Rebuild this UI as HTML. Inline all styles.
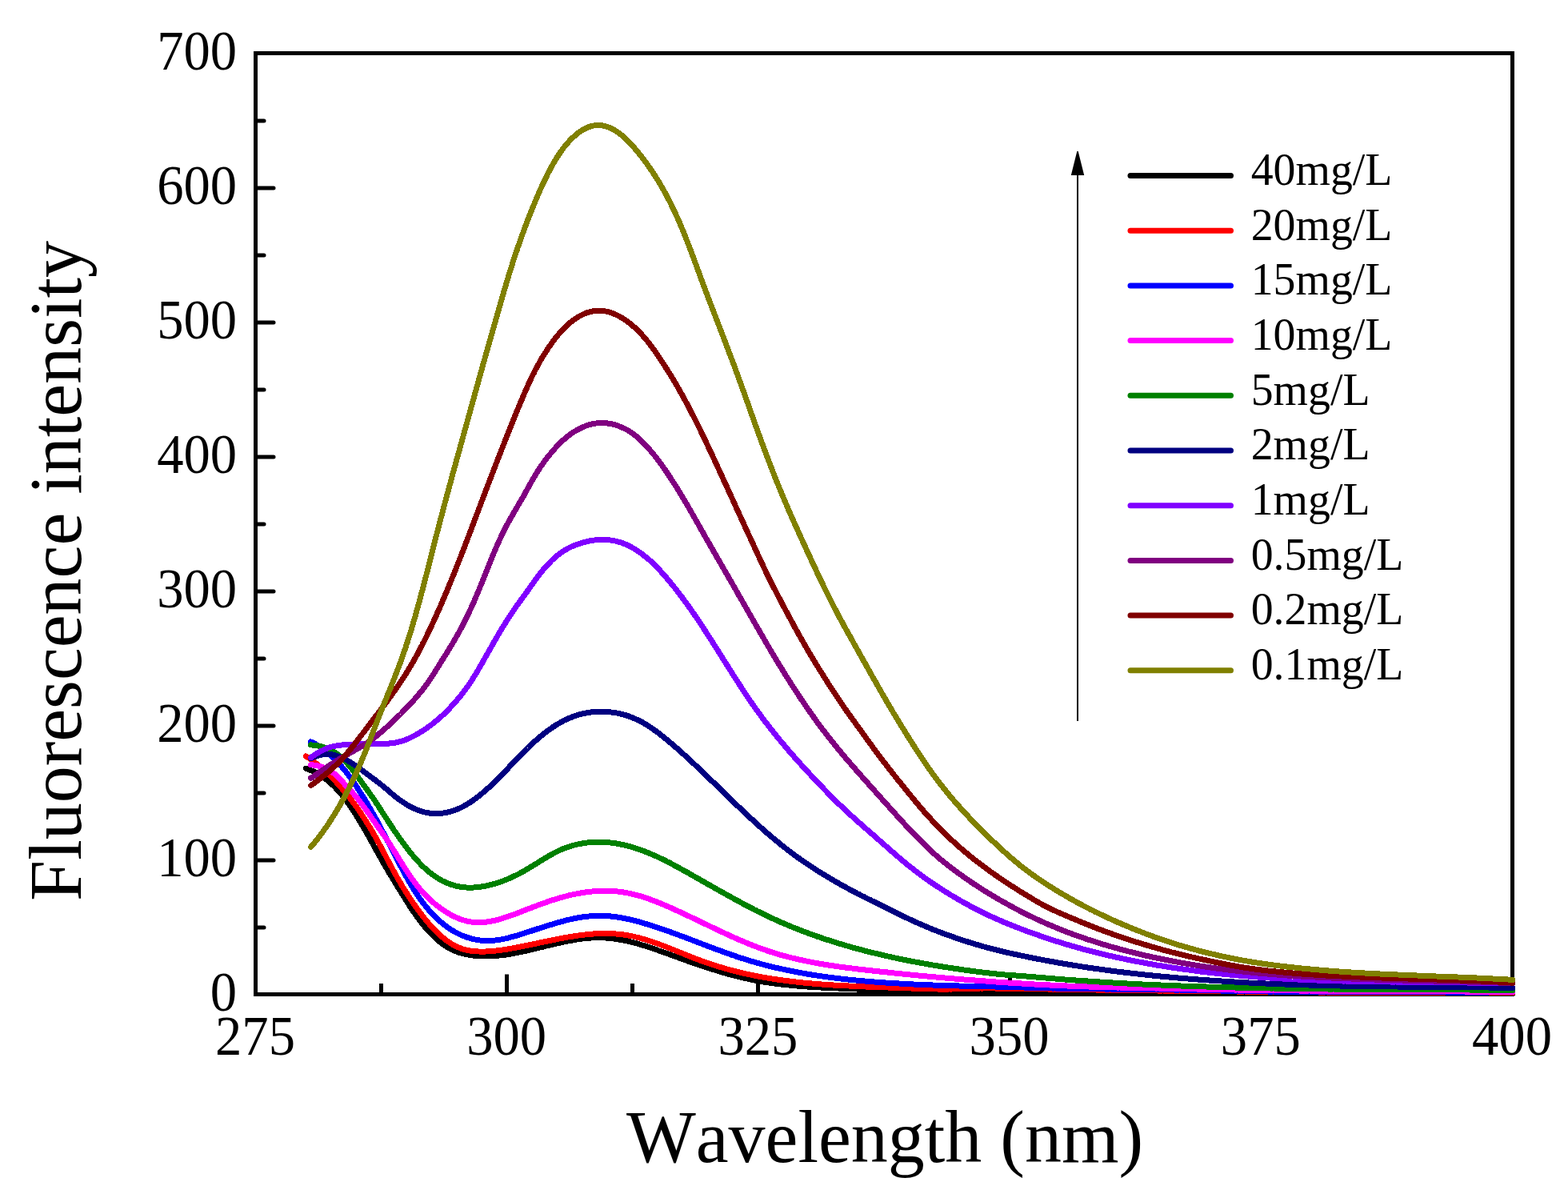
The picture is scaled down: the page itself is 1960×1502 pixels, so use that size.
<!DOCTYPE html>
<html lang="en">
<head>
<meta charset="utf-8">
<title>Fluorescence intensity vs Wavelength</title>
<style>
html,body{margin:0;padding:0;background:#fff;}
body{width:1960px;height:1502px;overflow:hidden;}
svg{display:block;}
text{font-family:"Liberation Serif","Times New Roman",serif;fill:#000;font-kerning:none;font-variant-ligatures:none;}
.tk{font-size:66px;}
.ax{font-size:92px;}
.lg{font-size:55px;}
.cv{fill:none;stroke-width:7;stroke-linecap:round;stroke-linejoin:round;}
.fr{fill:none;stroke:#000;stroke-width:5;}
</style>
</head>
<body>
<svg width="1960" height="1502" viewBox="0 0 1960 1502">
<rect x="0" y="0" width="1960" height="1502" fill="#ffffff"/>
<g class="fr" shape-rendering="crispEdges">
<path d="M319.5 66.5L1890.5 66.5L1890.5 1242.5L319.5 1242.5Z" stroke-linejoin="miter"/>
</g>
<g class="fr" stroke-linecap="round" stroke-width="6">
<path d="M319.5 1159.0h10.5M319.5 1075.0h22.5M319.5 991.0h10.5M319.5 907.0h22.5M319.5 823.0h10.5M319.5 739.0h22.5M319.5 655.0h10.5M319.5 571.0h22.5M319.5 487.0h10.5M319.5 403.0h22.5M319.5 319.0h10.5M319.5 235.0h22.5M319.5 151.0h10.5"/>
</g>
<path class="fr" stroke-linejoin="round" d="M476.5 1242.5v-13.5M633.5 1242.5v-25M790.5 1242.5v-13.5M947.5 1242.5v-25M1105.5 1242.5v-13.5M1262.5 1242.5v-25M1419.5 1242.5v-13.5M1576.5 1242.5v-25M1733.5 1242.5v-13.5"/>
<g class="tk" text-anchor="end">
<text transform="translate(296.2 1263.0) scale(1.01 1.055)">0</text>
<text transform="translate(296.2 1095.0) scale(1.01 1.055)">100</text>
<text transform="translate(296.2 927.0) scale(1.01 1.055)">200</text>
<text transform="translate(296.2 759.0) scale(1.01 1.055)">300</text>
<text transform="translate(296.2 591.0) scale(1.01 1.055)">400</text>
<text transform="translate(296.2 423.0) scale(1.01 1.055)">500</text>
<text transform="translate(296.2 255.0) scale(1.01 1.055)">600</text>
<text transform="translate(296.2 87.0) scale(1.01 1.055)">700</text>
</g>
<g class="tk" text-anchor="middle">
<text transform="translate(319.0 1317.8) scale(1.01 1.055)">275</text>
<text transform="translate(633.2 1317.8) scale(1.01 1.055)">300</text>
<text transform="translate(947.4 1317.8) scale(1.01 1.055)">325</text>
<text transform="translate(1261.6 1317.8) scale(1.01 1.055)">350</text>
<text transform="translate(1575.8 1317.8) scale(1.01 1.055)">375</text>
<text transform="translate(1890.0 1317.8) scale(1.01 1.055)">400</text>
</g>
<text class="ax" text-anchor="middle" transform="translate(1106.0 1451.5) scale(1.0 1.02)">Wavelength (nm)</text>
<text class="ax" text-anchor="middle" transform="translate(101.4 713.5) rotate(-90) scale(1.0 1.02)">Fluorescence intensity</text>
<g class="cv" shape-rendering="crispEdges">
<path stroke="#000000" d="M382.3 960.2L385.1 961.2L387.9 962.3L390.7 963.5L393.4 964.8L396 966.2L398.6 967.7L401.1 969.3L403.6 971L406.1 972.7L408.5 974.5L410.8 976.4L413.1 978.4L415.3 980.4L417.5 982.5L419.6 984.6L421.6 986.8L423.6 989L425.6 991.3L427.5 993.6L429.4 995.9L431.2 998.3L433 1000.7L434.8 1003.1L436.5 1005.6L438.2 1008L439.9 1010.5L441.6 1013L443.2 1015.5L444.8 1018.1L446.4 1020.6L448 1023.1L449.5 1025.7L451.1 1028.3L452.6 1030.9L454.1 1033.4L455.6 1036L457.1 1038.6L458.6 1041.2L460.1 1043.9L461.5 1046.5L463 1049.1L464.4 1051.7L465.9 1054.3L467.3 1057L468.8 1059.6L470.2 1062.2L471.7 1064.9L473.1 1067.5L474.6 1070.1L476.1 1072.7L477.5 1075.3L479 1077.9L480.5 1080.5L482 1083.1L483.6 1085.7L485.1 1088.3L486.6 1090.9L488.2 1093.4L489.7 1096L491.3 1098.5L492.8 1101.1L494.4 1103.7L496 1106.2L497.5 1108.8L499.1 1111.3L500.7 1113.9L502.3 1116.4L503.8 1119L505.4 1121.5L507 1124.1L508.6 1126.6L510.2 1129.2L511.8 1131.7L513.5 1134.2L515.1 1136.7L516.8 1139.2L518.5 1141.6L520.2 1144.1L522 1146.5L523.8 1148.9L525.6 1151.3L527.4 1153.7L529.3 1156L531.2 1158.3L533.2 1160.6L535.1 1162.9L537.2 1165.1L539.2 1167.2L541.4 1169.4L543.5 1171.4L545.7 1173.5L548 1175.4L550.3 1177.3L552.7 1179.2L555.1 1180.9L557.6 1182.6L560.2 1184.1L562.8 1185.6L565.5 1186.9L568.2 1188.2L571 1189.3L573.8 1190.3L576.7 1191.1L579.6 1191.9L582.5 1192.6L585.5 1193.1L588.4 1193.6L591.4 1194L594.4 1194.3L597.4 1194.6L600.4 1194.8L603.4 1194.9L606.4 1194.9L609.4 1194.9L612.4 1194.9L615.4 1194.7L618.4 1194.5L621.3 1194.3L624.3 1194L627.3 1193.7L630.3 1193.3L633.3 1192.9L636.2 1192.4L639.2 1191.9L642.1 1191.4L645.1 1190.8L648 1190.2L650.9 1189.6L653.9 1189L656.8 1188.4L659.7 1187.7L662.7 1187L665.6 1186.3L668.5 1185.6L671.4 1184.9L674.3 1184.2L677.2 1183.5L680.1 1182.8L683 1182L686 1181.3L688.9 1180.6L691.8 1179.9L694.7 1179.2L697.6 1178.6L700.6 1177.9L703.5 1177.3L706.4 1176.7L709.4 1176.1L712.3 1175.5L715.3 1175L718.2 1174.4L721.2 1174L724.1 1173.5L727.1 1173.1L730.1 1172.8L733.1 1172.5L736.1 1172.2L739 1172L742 1171.8L745 1171.7L748 1171.7L751 1171.7L754 1171.8L757 1172L760 1172.2L763 1172.5L766 1172.8L769 1173.2L771.9 1173.7L774.9 1174.2L777.8 1174.7L780.8 1175.3L783.7 1175.9L786.6 1176.6L789.5 1177.3L792.4 1178.1L795.3 1178.8L798.2 1179.6L801.1 1180.5L804 1181.3L806.8 1182.2L809.7 1183.1L812.5 1184.1L815.4 1185L818.2 1186L821.1 1187L823.9 1188L826.7 1189L829.5 1190L832.4 1191L835.2 1192L838 1193L840.8 1194.1L843.6 1195.1L846.5 1196.1L849.3 1197.1L852.1 1198.1L854.9 1199.2L857.7 1200.2L860.6 1201.2L863.4 1202.2L866.2 1203.1L869.1 1204.1L871.9 1205.1L874.7 1206.1L877.6 1207L880.4 1208L883.3 1208.9L886.1 1209.8L889 1210.7L891.9 1211.6L894.7 1212.5L897.6 1213.4L900.5 1214.3L903.3 1215.1L906.2 1215.9L909.1 1216.8L912 1217.6L914.9 1218.3L917.8 1219.1L920.7 1219.9L923.6 1220.6L926.5 1221.3L929.4 1222L932.4 1222.7L935.3 1223.3L938.2 1223.9L941.2 1224.5L944.1 1225.1L947 1225.7L950 1226.2L952.9 1226.7L955.9 1227.2L958.9 1227.7L961.8 1228.1L964.8 1228.6L967.8 1229L970.7 1229.4L973.7 1229.7L976.7 1230.1L979.7 1230.4L982.7 1230.7L985.6 1231L988.6 1231.3L991.6 1231.6L994.6 1231.9L997.6 1232.1L1000.6 1232.4L1003.6 1232.6L1006.6 1232.8L1009.5 1233L1012.5 1233.2L1015.5 1233.4L1018.5 1233.6L1021.5 1233.7L1024.5 1233.9L1027.5 1234.1L1030.5 1234.2L1033.5 1234.4L1036.5 1234.5L1039.5 1234.6L1042.5 1234.8L1045.5 1234.9L1048.5 1235L1051.5 1235.2L1054.5 1235.3L1057.5 1235.4L1060.5 1235.6L1063.5 1235.7L1066.5 1235.8L1069.4 1235.9L1072.4 1236.1L1075.4 1236.2L1078.4 1236.3L1081.4 1236.4L1084.4 1236.5L1087.4 1236.7L1090.4 1236.8L1093.4 1236.9L1096.4 1237L1099.4 1237.1L1102.4 1237.2L1105.4 1237.3L1108.4 1237.4L1111.4 1237.5L1114.4 1237.6L1117.4 1237.7L1120.4 1237.8L1123.4 1237.9L1126.4 1238L1129.4 1238.1L1132.4 1238.2L1135.4 1238.3L1138.4 1238.4L1141.4 1238.5L1144.4 1238.6L1147.4 1238.7L1150.4 1238.8L1153.4 1238.9L1156.4 1239L1159.4 1239.1L1162.4 1239.1L1165.4 1239.2L1168.4 1239.3L1171.3 1239.3L1174.3 1239.4L1177.3 1239.4L1180.3 1239.4L1183.3 1239.3L1186.3 1239.3L1189.3 1239.2L1192.3 1239.1L1195.3 1239L1198.3 1238.9L1201.3 1238.7L1204.3 1238.6L1207.3 1238.5L1210.3 1238.3L1213.3 1238.2L1216.3 1238L1219.3 1237.9L1222.3 1237.8L1225.3 1237.7L1228.3 1237.6L1231.3 1237.6L1234.3 1237.5L1237.3 1237.5L1240.3 1237.5L1243.3 1237.6L1246.3 1237.6L1249.3 1237.6L1252.3 1237.6L1255.3 1237.7L1258.3 1237.7L1261.3 1237.7L1264.3 1237.8L1267.3 1237.8L1270.3 1237.8L1273.3 1237.9L1276.3 1237.9L1279.3 1238L1282.3 1238L1285.3 1238L1288.3 1238.1L1291.3 1238.1L1294.3 1238.1L1297.3 1238.2L1300.3 1238.2L1303.3 1238.2L1306.3 1238.3L1309.3 1238.3L1312.3 1238.4L1315.2 1238.4L1318.2 1238.4L1321.2 1238.5L1324.2 1238.5L1327.2 1238.5L1330.2 1238.6L1333.2 1238.6L1336.2 1238.6L1339.2 1238.7L1342.2 1238.7L1345.2 1238.7L1348.2 1238.8L1351.2 1238.8L1354.2 1238.8L1357.2 1238.9L1360.2 1238.9L1363.2 1238.9L1366.2 1239L1369.2 1239L1372.2 1239L1375.2 1239.1L1378.2 1239.1L1381.2 1239.1L1384.2 1239.2L1387.2 1239.2L1390.2 1239.2L1393.2 1239.2L1396.2 1239.3L1399.2 1239.3L1402.2 1239.3L1405.2 1239.4L1408.2 1239.4L1411.2 1239.4L1414.2 1239.4L1417.2 1239.5L1420.2 1239.5L1423.2 1239.5L1426.2 1239.5L1429.2 1239.6L1432.2 1239.6L1435.2 1239.6L1438.2 1239.6L1441.2 1239.6L1444.2 1239.7L1447.2 1239.7L1450.2 1239.7L1453.2 1239.7L1456.2 1239.8L1459.2 1239.8L1462.2 1239.8L1465.2 1239.8L1468.2 1239.8L1471.2 1239.8L1474.2 1239.9L1477.2 1239.9L1480.2 1239.9L1483.2 1239.9L1486.2 1239.9L1489.2 1239.9L1492.2 1240L1495.2 1240L1498.2 1240L1501.2 1240L1504.2 1240L1507.2 1240L1510.2 1240.1L1513.2 1240.1L1516.2 1240.1L1519.2 1240.1L1522.2 1240.1L1525.2 1240.1L1528.2 1240.2L1531.2 1240.2L1534.2 1240.2L1537.1 1240.2L1540.1 1240.2L1543.1 1240.3L1546.1 1240.3L1549.1 1240.3L1552.1 1240.3L1555.1 1240.3L1558.1 1240.4L1561.1 1240.4L1564.1 1240.4L1567.1 1240.4L1570.1 1240.5L1573.1 1240.5L1576.1 1240.5L1579.1 1240.5L1582.1 1240.5L1585.1 1240.6L1588.1 1240.6L1591.1 1240.6L1594.1 1240.6L1597.1 1240.7L1600.1 1240.7L1603.1 1240.7L1606.1 1240.7L1609.1 1240.8L1612.1 1240.8L1615.1 1240.8L1618.1 1240.8L1621.1 1240.8L1624.1 1240.9L1627.1 1240.9L1630.1 1240.9L1633.1 1240.9L1636.1 1240.9L1639.1 1241L1642.1 1241L1645.1 1241L1648.1 1241L1651.1 1241L1654.1 1241L1657.1 1241.1L1660.1 1241.1L1663.1 1241.1L1666.1 1241.1L1669.1 1241.1L1672.1 1241.1L1675.1 1241.1L1678.1 1241.1L1681.1 1241.2L1684.1 1241.2L1687.1 1241.2L1690.1 1241.2L1693.1 1241.2L1696.1 1241.2L1699.1 1241.2L1702.1 1241.2L1705.1 1241.2L1708.1 1241.2L1711.1 1241.2L1714.1 1241.2L1717.1 1241.2L1720.1 1241.2L1723.1 1241.2L1726.1 1241.2L1729.1 1241.2L1732.1 1241.2L1735.1 1241.2L1738.1 1241.2L1741.1 1241.2L1744.1 1241.3L1747.1 1241.3L1750.1 1241.3L1753.1 1241.3L1756.1 1241.3L1759.1 1241.3L1762.1 1241.3L1765.1 1241.3L1768.1 1241.3L1771 1241.3L1774 1241.3L1777 1241.3L1780 1241.3L1783 1241.3L1786 1241.3L1789 1241.3L1792 1241.3L1795 1241.3L1798 1241.3L1801 1241.3L1804 1241.3L1807 1241.3L1810 1241.3L1813 1241.3L1816 1241.3L1819 1241.4L1822 1241.4L1825 1241.4L1828 1241.4L1831 1241.4L1834 1241.4L1837 1241.4L1840 1241.4L1843 1241.4L1846 1241.4L1849 1241.4L1852 1241.4L1855 1241.4L1858 1241.4L1861 1241.4L1864 1241.4L1867 1241.4L1870 1241.4L1873 1241.5L1876 1241.5L1879 1241.5L1882 1241.5L1885 1241.5L1888 1241.5L1891 1241.5"/>
<path stroke="#ff0000" d="M382.3 945L384.9 946.6L387.4 948.2L389.8 950L392.2 951.8L394.6 953.6L396.9 955.5L399.2 957.4L401.5 959.3L403.8 961.2L406.1 963.2L408.3 965.2L410.4 967.3L412.6 969.4L414.7 971.5L416.8 973.7L418.9 975.8L420.9 978L422.9 980.3L424.9 982.5L426.9 984.8L428.8 987L430.8 989.3L432.7 991.6L434.6 993.9L436.5 996.3L438.3 998.6L440.2 1001L442 1003.4L443.8 1005.8L445.5 1008.2L447.3 1010.6L449 1013.1L450.7 1015.6L452.3 1018.1L454 1020.6L455.6 1023.1L457.2 1025.6L458.8 1028.2L460.4 1030.7L461.9 1033.3L463.5 1035.8L465 1038.4L466.5 1041L468 1043.6L469.5 1046.2L470.9 1048.8L472.4 1051.5L473.8 1054.1L475.2 1056.7L476.6 1059.4L478.1 1062L479.4 1064.7L480.8 1067.3L482.2 1070L483.6 1072.6L485 1075.3L486.4 1077.9L487.8 1080.6L489.3 1083.2L490.7 1085.9L492.1 1088.5L493.6 1091.1L495 1093.7L496.5 1096.4L498 1099L499.5 1101.5L501 1104.1L502.5 1106.7L504.1 1109.3L505.7 1111.8L507.3 1114.4L508.9 1116.9L510.5 1119.4L512.1 1121.9L513.8 1124.4L515.5 1126.9L517.2 1129.4L518.9 1131.8L520.6 1134.3L522.4 1136.7L524.1 1139.1L525.9 1141.5L527.8 1143.9L529.6 1146.3L531.5 1148.6L533.4 1150.9L535.3 1153.2L537.3 1155.5L539.3 1157.7L541.3 1159.9L543.4 1162.1L545.5 1164.2L547.7 1166.3L549.9 1168.3L552.1 1170.3L554.4 1172.2L556.7 1174.1L559.1 1175.9L561.6 1177.6L564.1 1179.2L566.7 1180.8L569.3 1182.2L572 1183.5L574.8 1184.6L577.6 1185.6L580.5 1186.5L583.4 1187.2L586.3 1187.8L589.3 1188.3L592.3 1188.6L595.3 1188.9L598.3 1189L601.3 1189.1L604.3 1189.1L607.3 1189L610.2 1188.9L613.2 1188.7L616.2 1188.4L619.2 1188.1L622.2 1187.8L625.2 1187.4L628.1 1187L631.1 1186.5L634 1186.1L637 1185.6L640 1185L642.9 1184.5L645.8 1183.9L648.8 1183.4L651.7 1182.8L654.7 1182.2L657.6 1181.6L660.5 1181L663.5 1180.4L666.4 1179.8L669.3 1179.2L672.3 1178.5L675.2 1177.9L678.1 1177.3L681.1 1176.7L684 1176.1L686.9 1175.5L689.9 1174.9L692.8 1174.3L695.8 1173.7L698.7 1173.1L701.6 1172.5L704.6 1172L707.5 1171.5L710.5 1170.9L713.4 1170.4L716.4 1170L719.4 1169.5L722.3 1169.1L725.3 1168.7L728.3 1168.3L731.3 1168L734.2 1167.6L737.2 1167.4L740.2 1167.1L743.2 1166.9L746.2 1166.7L749.2 1166.6L752.2 1166.5L755.2 1166.4L758.2 1166.4L761.2 1166.5L764.2 1166.6L767.2 1166.7L770.2 1167L773.1 1167.2L776.1 1167.5L779.1 1167.9L782.1 1168.4L785 1168.9L788 1169.4L790.9 1170L793.8 1170.7L796.7 1171.4L799.6 1172.1L802.5 1172.9L805.4 1173.7L808.3 1174.6L811.1 1175.5L814 1176.4L816.8 1177.4L819.7 1178.4L822.5 1179.4L825.3 1180.4L828.1 1181.5L830.9 1182.5L833.7 1183.6L836.5 1184.7L839.3 1185.8L842.1 1186.9L844.8 1188L847.6 1189.2L850.4 1190.3L853.2 1191.4L856 1192.5L858.7 1193.7L861.5 1194.8L864.3 1195.9L867.1 1197L869.9 1198.1L872.7 1199.1L875.5 1200.2L878.3 1201.2L881.1 1202.2L884 1203.2L886.8 1204.2L889.6 1205.1L892.5 1206.1L895.3 1207L898.2 1207.9L901.1 1208.7L904 1209.6L906.8 1210.4L909.7 1211.2L912.6 1212L915.5 1212.8L918.4 1213.5L921.3 1214.2L924.2 1215L927.1 1215.7L930.1 1216.3L933 1217L935.9 1217.6L938.9 1218.2L941.8 1218.8L944.7 1219.4L947.7 1220L950.6 1220.5L953.6 1221.1L956.5 1221.6L959.5 1222.1L962.4 1222.6L965.4 1223.1L968.4 1223.5L971.3 1224L974.3 1224.4L977.3 1224.8L980.2 1225.2L983.2 1225.6L986.2 1226L989.1 1226.4L992.1 1226.7L995.1 1227L998.1 1227.4L1001.1 1227.7L1004 1228L1007 1228.3L1010 1228.6L1013 1228.8L1016 1229.1L1019 1229.4L1022 1229.6L1024.9 1229.8L1027.9 1230.1L1030.9 1230.3L1033.9 1230.5L1036.9 1230.7L1039.9 1230.9L1042.9 1231.1L1045.9 1231.2L1048.9 1231.4L1051.9 1231.6L1054.9 1231.7L1057.8 1231.9L1060.8 1232L1063.8 1232.2L1066.8 1232.3L1069.8 1232.5L1072.8 1232.6L1075.8 1232.7L1078.8 1232.8L1081.8 1233L1084.8 1233.1L1087.8 1233.2L1090.8 1233.3L1093.8 1233.4L1096.8 1233.5L1099.8 1233.6L1102.8 1233.7L1105.8 1233.8L1108.8 1233.9L1111.8 1234.1L1114.8 1234.2L1117.7 1234.3L1120.7 1234.4L1123.7 1234.5L1126.7 1234.6L1129.7 1234.7L1132.7 1234.8L1135.7 1234.9L1138.7 1235L1141.7 1235.1L1144.7 1235.2L1147.7 1235.3L1150.7 1235.3L1153.7 1235.4L1156.7 1235.5L1159.7 1235.6L1162.7 1235.7L1165.7 1235.8L1168.7 1235.9L1171.7 1236L1174.7 1236L1177.7 1236.1L1180.7 1236.1L1183.7 1236.1L1186.7 1236L1189.7 1236L1192.7 1235.9L1195.6 1235.9L1198.6 1235.8L1201.6 1235.7L1204.6 1235.6L1207.6 1235.5L1210.6 1235.4L1213.6 1235.3L1216.6 1235.2L1219.6 1235.1L1222.6 1235.1L1225.6 1235L1228.6 1235L1231.6 1234.9L1234.6 1234.9L1237.6 1234.9L1240.6 1234.9L1243.6 1235L1246.6 1235L1249.6 1235L1252.6 1235.1L1255.6 1235.1L1258.6 1235.1L1261.6 1235.2L1264.6 1235.2L1267.6 1235.3L1270.6 1235.3L1273.6 1235.4L1276.6 1235.4L1279.6 1235.4L1282.6 1235.5L1285.6 1235.5L1288.6 1235.6L1291.5 1235.7L1294.5 1235.7L1297.5 1235.8L1300.5 1235.8L1303.5 1235.9L1306.5 1235.9L1309.5 1236L1312.5 1236L1315.5 1236.1L1318.5 1236.1L1321.5 1236.2L1324.5 1236.2L1327.5 1236.3L1330.5 1236.3L1333.5 1236.4L1336.5 1236.4L1339.5 1236.5L1342.5 1236.5L1345.5 1236.6L1348.5 1236.6L1351.5 1236.7L1354.5 1236.7L1357.5 1236.8L1360.5 1236.8L1363.5 1236.9L1366.5 1236.9L1369.5 1237L1372.5 1237L1375.5 1237L1378.5 1237.1L1381.5 1237.1L1384.5 1237.2L1387.5 1237.2L1390.4 1237.3L1393.4 1237.3L1396.4 1237.3L1399.4 1237.4L1402.4 1237.4L1405.4 1237.5L1408.4 1237.5L1411.4 1237.5L1414.4 1237.6L1417.4 1237.6L1420.4 1237.7L1423.4 1237.7L1426.4 1237.7L1429.4 1237.8L1432.4 1237.8L1435.4 1237.8L1438.4 1237.9L1441.4 1237.9L1444.4 1237.9L1447.4 1238L1450.4 1238L1453.4 1238L1456.4 1238.1L1459.4 1238.1L1462.4 1238.1L1465.4 1238.2L1468.4 1238.2L1471.4 1238.2L1474.4 1238.3L1477.4 1238.3L1480.4 1238.3L1483.4 1238.3L1486.4 1238.4L1489.4 1238.4L1492.4 1238.4L1495.4 1238.5L1498.3 1238.5L1501.3 1238.5L1504.3 1238.5L1507.3 1238.6L1510.3 1238.6L1513.3 1238.6L1516.3 1238.7L1519.3 1238.7L1522.3 1238.7L1525.3 1238.7L1528.3 1238.8L1531.3 1238.8L1534.3 1238.8L1537.3 1238.9L1540.3 1238.9L1543.3 1238.9L1546.3 1239L1549.3 1239L1552.3 1239L1555.3 1239L1558.3 1239.1L1561.3 1239.1L1564.3 1239.1L1567.3 1239.2L1570.3 1239.2L1573.3 1239.2L1576.3 1239.3L1579.3 1239.3L1582.3 1239.3L1585.3 1239.4L1588.3 1239.4L1591.3 1239.4L1594.3 1239.5L1597.3 1239.5L1600.3 1239.5L1603.3 1239.6L1606.2 1239.6L1609.2 1239.6L1612.2 1239.6L1615.2 1239.7L1618.2 1239.7L1621.2 1239.7L1624.2 1239.8L1627.2 1239.8L1630.2 1239.8L1633.2 1239.8L1636.2 1239.9L1639.2 1239.9L1642.2 1239.9L1645.2 1239.9L1648.2 1240L1651.2 1240L1654.2 1240L1657.2 1240L1660.2 1240.1L1663.2 1240.1L1666.2 1240.1L1669.2 1240.1L1672.2 1240.2L1675.2 1240.2L1678.2 1240.2L1681.2 1240.2L1684.2 1240.2L1687.2 1240.2L1690.2 1240.3L1693.2 1240.3L1696.2 1240.3L1699.2 1240.3L1702.2 1240.3L1705.2 1240.3L1708.2 1240.3L1711.2 1240.3L1714.2 1240.4L1717.2 1240.4L1720.1 1240.4L1723.1 1240.4L1726.1 1240.4L1729.1 1240.4L1732.1 1240.4L1735.1 1240.4L1738.1 1240.4L1741.1 1240.4L1744.1 1240.5L1747.1 1240.5L1750.1 1240.5L1753.1 1240.5L1756.1 1240.5L1759.1 1240.5L1762.1 1240.5L1765.1 1240.5L1768.1 1240.5L1771.1 1240.5L1774.1 1240.5L1777.1 1240.5L1780.1 1240.5L1783.1 1240.6L1786.1 1240.6L1789.1 1240.6L1792.1 1240.6L1795.1 1240.6L1798.1 1240.6L1801.1 1240.6L1804.1 1240.6L1807.1 1240.6L1810.1 1240.6L1813.1 1240.6L1816.1 1240.6L1819.1 1240.6L1822.1 1240.6L1825.1 1240.6L1828.1 1240.6L1831.1 1240.6L1834 1240.6L1837 1240.6L1840 1240.6L1843 1240.6L1846 1240.6L1849 1240.6L1852 1240.6L1855 1240.6L1858 1240.6L1861 1240.6L1864 1240.6L1867 1240.6L1870 1240.6L1873 1240.5L1876 1240.5L1879 1240.5L1882 1240.5L1885 1240.5L1888 1240.5L1891 1240.5"/>
<path stroke="#0000ff" d="M388.6 926.9L391.3 928.1L394 929.5L396.5 931.1L399 932.8L401.4 934.6L403.8 936.4L406.2 938.2L408.5 940.1L410.8 942L413.1 944L415.3 946L417.5 948L419.6 950.1L421.8 952.3L423.8 954.4L425.9 956.6L427.8 958.9L429.8 961.2L431.7 963.5L433.5 965.8L435.4 968.2L437.1 970.6L438.9 973L440.6 975.5L442.3 978L444 980.4L445.7 982.9L447.3 985.4L448.9 988L450.6 990.5L452.2 993L453.8 995.6L455.4 998.1L456.9 1000.7L458.5 1003.2L460 1005.8L461.5 1008.4L463 1011L464.5 1013.6L466 1016.2L467.5 1018.8L468.9 1021.4L470.4 1024L471.8 1026.7L473.2 1029.3L474.6 1032L476 1034.6L477.4 1037.3L478.8 1039.9L480.2 1042.6L481.6 1045.2L483 1047.9L484.4 1050.5L485.8 1053.2L487.2 1055.9L488.5 1058.5L489.9 1061.2L491.3 1063.9L492.7 1066.5L494 1069.2L495.4 1071.9L496.8 1074.5L498.2 1077.2L499.5 1079.8L500.9 1082.5L502.3 1085.2L503.7 1087.8L505.1 1090.4L506.6 1093.1L508 1095.7L509.5 1098.3L510.9 1100.9L512.4 1103.5L514 1106.1L515.5 1108.7L517.1 1111.2L518.7 1113.8L520.3 1116.3L522 1118.8L523.7 1121.2L525.4 1123.7L527.2 1126.1L529 1128.5L530.9 1130.9L532.8 1133.2L534.7 1135.5L536.6 1137.8L538.6 1140L540.7 1142.2L542.7 1144.4L544.9 1146.5L547 1148.6L549.2 1150.6L551.5 1152.5L553.8 1154.5L556.2 1156.3L558.6 1158.1L561 1159.8L563.5 1161.5L566.1 1163.1L568.6 1164.6L571.3 1166L574 1167.3L576.7 1168.6L579.5 1169.7L582.3 1170.8L585.1 1171.7L588 1172.6L590.9 1173.3L593.8 1174L596.8 1174.5L599.7 1175L602.7 1175.3L605.7 1175.5L608.7 1175.6L611.7 1175.6L614.7 1175.4L617.7 1175.2L620.7 1174.8L623.6 1174.4L626.6 1173.9L629.5 1173.3L632.5 1172.7L635.4 1172L638.3 1171.2L641.2 1170.4L644.1 1169.6L646.9 1168.8L649.8 1167.9L652.7 1167L655.5 1166.1L658.4 1165.2L661.2 1164.2L664.1 1163.3L666.9 1162.4L669.8 1161.4L672.6 1160.5L675.5 1159.6L678.3 1158.6L681.2 1157.7L684 1156.8L686.9 1155.9L689.8 1155.1L692.6 1154.2L695.5 1153.4L698.4 1152.5L701.3 1151.7L704.2 1151L707.1 1150.2L710 1149.5L712.9 1148.8L715.8 1148.2L718.8 1147.6L721.7 1147L724.7 1146.5L727.6 1146L730.6 1145.6L733.6 1145.3L736.6 1144.9L739.6 1144.7L742.5 1144.5L745.5 1144.4L748.5 1144.3L751.5 1144.3L754.5 1144.4L757.5 1144.5L760.5 1144.7L763.5 1145L766.5 1145.3L769.5 1145.7L772.4 1146.1L775.4 1146.6L778.3 1147.2L781.3 1147.7L784.2 1148.3L787.1 1149L790.1 1149.7L793 1150.4L795.9 1151.1L798.8 1151.9L801.7 1152.7L804.5 1153.6L807.4 1154.4L810.3 1155.3L813.1 1156.2L816 1157.1L818.8 1158L821.7 1159L824.5 1159.9L827.4 1160.9L830.2 1161.9L833 1162.9L835.9 1163.9L838.7 1164.9L841.5 1165.9L844.3 1166.9L847.1 1168L849.9 1169L852.8 1170.1L855.6 1171.1L858.4 1172.2L861.2 1173.2L864 1174.3L866.8 1175.4L869.6 1176.4L872.4 1177.5L875.2 1178.6L878 1179.7L880.8 1180.7L883.6 1181.8L886.4 1182.9L889.2 1183.9L892 1185L894.8 1186L897.6 1187.1L900.4 1188.1L903.2 1189.1L906 1190.2L908.9 1191.2L911.7 1192.2L914.5 1193.2L917.4 1194.1L920.2 1195.1L923 1196.1L925.9 1197L928.7 1197.9L931.6 1198.8L934.5 1199.7L937.3 1200.6L940.2 1201.4L943.1 1202.3L946 1203.1L948.9 1203.9L951.8 1204.7L954.7 1205.4L957.6 1206.2L960.5 1206.9L963.4 1207.7L966.3 1208.4L969.2 1209.1L972.1 1209.7L975 1210.4L978 1211L980.9 1211.7L983.8 1212.3L986.8 1212.9L989.7 1213.5L992.7 1214.1L995.6 1214.6L998.5 1215.2L1001.5 1215.7L1004.4 1216.3L1007.4 1216.8L1010.4 1217.3L1013.3 1217.8L1016.3 1218.3L1019.2 1218.7L1022.2 1219.2L1025.2 1219.6L1028.1 1220L1031.1 1220.5L1034.1 1220.9L1037 1221.3L1040 1221.7L1043 1222L1046 1222.4L1048.9 1222.8L1051.9 1223.1L1054.9 1223.4L1057.9 1223.8L1060.9 1224.1L1063.8 1224.4L1066.8 1224.7L1069.8 1225L1072.8 1225.3L1075.8 1225.6L1078.8 1225.8L1081.7 1226.1L1084.7 1226.3L1087.7 1226.6L1090.7 1226.8L1093.7 1227.1L1096.7 1227.3L1099.7 1227.5L1102.7 1227.7L1105.7 1227.9L1108.7 1228.1L1111.6 1228.3L1114.6 1228.5L1117.6 1228.7L1120.6 1228.9L1123.6 1229L1126.6 1229.2L1129.6 1229.4L1132.6 1229.5L1135.6 1229.7L1138.6 1229.8L1141.6 1230L1144.6 1230.1L1147.6 1230.2L1150.6 1230.4L1153.6 1230.5L1156.6 1230.6L1159.6 1230.8L1162.5 1230.9L1165.5 1231L1168.5 1231.1L1171.5 1231.2L1174.5 1231.4L1177.5 1231.5L1180.5 1231.5L1183.5 1231.6L1186.5 1231.7L1189.5 1231.8L1192.5 1231.9L1195.5 1231.9L1198.5 1232L1201.5 1232.1L1204.5 1232.1L1207.5 1232.2L1210.5 1232.2L1213.5 1232.3L1216.5 1232.4L1219.5 1232.4L1222.5 1232.5L1225.5 1232.6L1228.5 1232.6L1231.5 1232.7L1234.5 1232.8L1237.5 1232.8L1240.5 1232.9L1243.5 1233L1246.5 1233.1L1249.5 1233.2L1252.5 1233.3L1255.5 1233.3L1258.5 1233.4L1261.4 1233.5L1264.4 1233.6L1267.4 1233.7L1270.4 1233.8L1273.4 1233.9L1276.4 1233.9L1279.4 1234L1282.4 1234.1L1285.4 1234.2L1288.4 1234.3L1291.4 1234.4L1294.4 1234.5L1297.4 1234.5L1300.4 1234.6L1303.4 1234.7L1306.4 1234.8L1309.4 1234.8L1312.4 1234.9L1315.4 1235L1318.4 1235L1321.4 1235.1L1324.4 1235.1L1327.4 1235.2L1330.4 1235.3L1333.4 1235.3L1336.4 1235.4L1339.4 1235.4L1342.4 1235.5L1345.4 1235.5L1348.4 1235.6L1351.4 1235.6L1354.4 1235.6L1357.4 1235.7L1360.4 1235.7L1363.4 1235.8L1366.4 1235.8L1369.4 1235.8L1372.4 1235.9L1375.4 1235.9L1378.3 1235.9L1381.3 1236L1384.3 1236L1387.3 1236L1390.3 1236.1L1393.3 1236.1L1396.3 1236.1L1399.3 1236.2L1402.3 1236.2L1405.3 1236.2L1408.3 1236.3L1411.3 1236.3L1414.3 1236.3L1417.3 1236.3L1420.3 1236.4L1423.3 1236.4L1426.3 1236.4L1429.3 1236.5L1432.3 1236.5L1435.3 1236.5L1438.3 1236.6L1441.3 1236.6L1444.3 1236.6L1447.3 1236.7L1450.3 1236.7L1453.3 1236.7L1456.3 1236.8L1459.3 1236.8L1462.3 1236.9L1465.3 1236.9L1468.3 1237L1471.3 1237L1474.3 1237L1477.3 1237.1L1480.3 1237.1L1483.3 1237.2L1486.3 1237.2L1489.3 1237.3L1492.3 1237.4L1495.3 1237.4L1498.3 1237.5L1501.3 1237.5L1504.3 1237.6L1507.3 1237.6L1510.3 1237.7L1513.3 1237.8L1516.2 1237.8L1519.2 1237.9L1522.2 1237.9L1525.2 1238L1528.2 1238.1L1531.2 1238.1L1534.2 1238.2L1537.2 1238.2L1540.2 1238.3L1543.2 1238.3L1546.2 1238.4L1549.2 1238.4L1552.2 1238.5L1555.2 1238.5L1558.2 1238.6L1561.2 1238.6L1564.2 1238.7L1567.2 1238.7L1570.2 1238.7L1573.2 1238.8L1576.2 1238.8L1579.2 1238.9L1582.2 1238.9L1585.2 1239L1588.2 1239L1591.2 1239L1594.2 1239.1L1597.2 1239.1L1600.2 1239.1L1603.2 1239.2L1606.2 1239.2L1609.2 1239.2L1612.2 1239.3L1615.2 1239.3L1618.2 1239.3L1621.2 1239.4L1624.2 1239.4L1627.2 1239.4L1630.2 1239.4L1633.2 1239.5L1636.2 1239.5L1639.2 1239.5L1642.2 1239.5L1645.2 1239.5L1648.2 1239.6L1651.2 1239.6L1654.1 1239.6L1657.1 1239.6L1660.1 1239.6L1663.1 1239.6L1666.1 1239.6L1669.1 1239.7L1672.1 1239.7L1675.1 1239.7L1678.1 1239.7L1681.1 1239.7L1684.1 1239.7L1687.1 1239.7L1690.1 1239.7L1693.1 1239.7L1696.1 1239.7L1699.1 1239.7L1702.1 1239.7L1705.1 1239.7L1708.1 1239.7L1711.1 1239.7L1714.1 1239.7L1717.1 1239.7L1720.1 1239.7L1723.1 1239.7L1726.1 1239.7L1729.1 1239.7L1732.1 1239.7L1735.1 1239.7L1738.1 1239.7L1741.1 1239.8L1744.1 1239.8L1747.1 1239.8L1750.1 1239.8L1753.1 1239.8L1756.1 1239.8L1759.1 1239.8L1762.1 1239.8L1765.1 1239.8L1768.1 1239.8L1771.1 1239.8L1774.1 1239.9L1777.1 1239.9L1780.1 1239.9L1783.1 1239.9L1786.1 1239.9L1789.1 1239.9L1792.1 1239.9L1795.1 1239.9L1798.1 1239.9L1801.1 1239.9L1804.1 1239.9L1807.1 1240L1810.1 1240L1813 1240L1816 1240L1819 1240L1822 1240L1825 1240L1828 1240L1831 1240L1834 1240L1837 1240L1840 1240L1843 1240L1846 1240L1849 1240L1852 1240L1855 1240L1858 1240L1861 1240L1864 1239.9L1867 1239.9L1870 1239.9L1873 1239.9L1876 1239.9L1879 1239.9L1882 1239.9L1885 1239.8L1888 1239.8L1891 1239.7"/>
<path stroke="#ff00ff" d="M388.6 955.6L391.6 956L394.5 956.5L397.5 957L400.4 957.7L403.2 958.6L406 959.7L408.8 961L411.4 962.4L414 963.9L416.4 965.7L418.8 967.5L421 969.5L423.1 971.6L425.2 973.8L427.3 976L429.3 978.2L431.3 980.4L433.4 982.6L435.4 984.8L437.4 987L439.5 989.2L441.5 991.4L443.4 993.7L445.4 996L447.3 998.3L449.1 1000.6L451 1003L452.8 1005.4L454.6 1007.8L456.3 1010.2L458.1 1012.7L459.8 1015.1L461.5 1017.6L463.2 1020L464.9 1022.5L466.7 1025L468.4 1027.4L470.1 1029.9L471.8 1032.3L473.6 1034.8L475.3 1037.2L477 1039.6L478.8 1042.1L480.5 1044.6L482.2 1047L483.8 1049.5L485.5 1052L487.1 1054.5L488.7 1057.1L490.3 1059.6L491.9 1062.1L493.5 1064.7L495.1 1067.2L496.6 1069.8L498.2 1072.3L499.8 1074.9L501.4 1077.4L503 1080L504.6 1082.5L506.2 1085L507.8 1087.6L509.5 1090.1L511.1 1092.6L512.8 1095L514.5 1097.5L516.3 1099.9L518.1 1102.3L519.9 1104.7L521.7 1107.1L523.6 1109.4L525.5 1111.7L527.5 1114L529.5 1116.2L531.6 1118.4L533.7 1120.5L535.8 1122.6L538 1124.6L540.3 1126.6L542.5 1128.6L544.8 1130.5L547.2 1132.3L549.6 1134.1L552 1135.9L554.5 1137.6L557 1139.2L559.6 1140.8L562.1 1142.3L564.8 1143.8L567.5 1145.1L570.2 1146.4L572.9 1147.6L575.7 1148.6L578.6 1149.6L581.4 1150.4L584.3 1151.2L587.3 1151.7L590.2 1152.2L593.2 1152.5L596.2 1152.7L599.2 1152.7L602.2 1152.6L605.2 1152.4L608.2 1152.1L611.2 1151.6L614.1 1151.1L617 1150.5L620 1149.8L622.9 1149.1L625.7 1148.3L628.6 1147.4L631.5 1146.5L634.3 1145.5L637.1 1144.6L640 1143.5L642.8 1142.5L645.6 1141.5L648.4 1140.4L651.2 1139.3L654 1138.2L656.8 1137.1L659.6 1136.1L662.4 1135L665.2 1133.9L668 1132.8L670.8 1131.8L673.6 1130.7L676.4 1129.7L679.2 1128.7L682 1127.7L684.9 1126.7L687.7 1125.7L690.5 1124.8L693.4 1123.9L696.3 1123L699.1 1122.1L702 1121.3L704.9 1120.5L707.8 1119.8L710.7 1119L713.6 1118.3L716.6 1117.7L719.5 1117.1L722.4 1116.5L725.4 1116L728.4 1115.5L731.3 1115L734.3 1114.6L737.3 1114.3L740.3 1114L743.2 1113.7L746.2 1113.5L749.2 1113.4L752.2 1113.3L755.2 1113.2L758.2 1113.2L761.2 1113.3L764.2 1113.4L767.2 1113.6L770.2 1113.8L773.2 1114.2L776.1 1114.5L779.1 1114.9L782.1 1115.4L785 1116L787.9 1116.6L790.9 1117.3L793.8 1118L796.7 1118.8L799.6 1119.6L802.4 1120.4L805.3 1121.3L808.1 1122.3L811 1123.2L813.8 1124.3L816.6 1125.3L819.4 1126.4L822.2 1127.5L825 1128.6L827.8 1129.7L830.5 1130.9L833.3 1132.1L836 1133.3L838.8 1134.5L841.5 1135.7L844.2 1137L846.9 1138.2L849.7 1139.5L852.4 1140.7L855.1 1142L857.8 1143.3L860.5 1144.6L863.2 1145.8L865.9 1147.1L868.6 1148.4L871.3 1149.7L874 1151L876.7 1152.3L879.4 1153.6L882.1 1154.9L884.8 1156.2L887.5 1157.5L890.3 1158.8L893 1160.1L895.7 1161.4L898.4 1162.7L901.1 1164L903.8 1165.2L906.5 1166.5L909.2 1167.7L912 1169L914.7 1170.2L917.4 1171.5L920.2 1172.7L922.9 1173.9L925.7 1175.1L928.4 1176.2L931.2 1177.4L934 1178.6L936.7 1179.7L939.5 1180.8L942.3 1181.9L945.1 1183L947.9 1184L950.7 1185.1L953.5 1186.1L956.4 1187.1L959.2 1188.1L962 1189L964.9 1189.9L967.8 1190.8L970.6 1191.7L973.5 1192.6L976.4 1193.4L979.3 1194.2L982.2 1195L985.1 1195.8L988 1196.5L990.9 1197.2L993.8 1197.9L996.7 1198.6L999.6 1199.3L1002.6 1199.9L1005.5 1200.5L1008.4 1201.1L1011.4 1201.7L1014.3 1202.3L1017.2 1202.9L1020.2 1203.4L1023.1 1203.9L1026.1 1204.4L1029.1 1204.9L1032 1205.4L1035 1205.9L1037.9 1206.4L1040.9 1206.8L1043.9 1207.2L1046.8 1207.7L1049.8 1208.1L1052.8 1208.5L1055.7 1208.9L1058.7 1209.3L1061.7 1209.7L1064.7 1210L1067.6 1210.4L1070.6 1210.8L1073.6 1211.1L1076.6 1211.5L1079.5 1211.8L1082.5 1212.1L1085.5 1212.5L1088.5 1212.8L1091.5 1213.1L1094.4 1213.5L1097.4 1213.8L1100.4 1214.1L1103.4 1214.4L1106.4 1214.7L1109.3 1215L1112.3 1215.4L1115.3 1215.7L1118.3 1216L1121.3 1216.3L1124.3 1216.6L1127.2 1216.9L1130.2 1217.2L1133.2 1217.5L1136.2 1217.8L1139.2 1218.1L1142.2 1218.4L1145.1 1218.7L1148.1 1219L1151.1 1219.2L1154.1 1219.5L1157.1 1219.8L1160.1 1220.1L1163 1220.4L1166 1220.7L1169 1220.9L1172 1221.2L1175 1221.5L1178 1221.7L1181 1222L1183.9 1222.3L1186.9 1222.5L1189.9 1222.8L1192.9 1223L1195.9 1223.3L1198.9 1223.5L1201.9 1223.7L1204.9 1224L1207.8 1224.2L1210.8 1224.4L1213.8 1224.7L1216.8 1224.9L1219.8 1225.1L1222.8 1225.4L1225.8 1225.6L1228.8 1225.8L1231.8 1226L1234.7 1226.2L1237.7 1226.4L1240.7 1226.7L1243.7 1226.9L1246.7 1227.1L1249.7 1227.3L1252.7 1227.5L1255.7 1227.7L1258.7 1227.9L1261.7 1228.1L1264.7 1228.3L1267.6 1228.5L1270.6 1228.7L1273.6 1228.9L1276.6 1229L1279.6 1229.2L1282.6 1229.4L1285.6 1229.6L1288.6 1229.8L1291.6 1229.9L1294.6 1230.1L1297.6 1230.3L1300.6 1230.4L1303.6 1230.6L1306.6 1230.7L1309.5 1230.9L1312.5 1231L1315.5 1231.2L1318.5 1231.3L1321.5 1231.5L1324.5 1231.6L1327.5 1231.7L1330.5 1231.9L1333.5 1232L1336.5 1232.1L1339.5 1232.2L1342.5 1232.3L1345.5 1232.5L1348.5 1232.6L1351.5 1232.7L1354.5 1232.8L1357.5 1232.9L1360.5 1233L1363.5 1233.1L1366.5 1233.2L1369.5 1233.2L1372.4 1233.3L1375.4 1233.4L1378.4 1233.5L1381.4 1233.6L1384.4 1233.7L1387.4 1233.7L1390.4 1233.8L1393.4 1233.9L1396.4 1234L1399.4 1234L1402.4 1234.1L1405.4 1234.2L1408.4 1234.2L1411.4 1234.3L1414.4 1234.4L1417.4 1234.4L1420.4 1234.5L1423.4 1234.6L1426.4 1234.6L1429.4 1234.7L1432.4 1234.7L1435.4 1234.8L1438.4 1234.9L1441.4 1234.9L1444.4 1235L1447.4 1235L1450.4 1235.1L1453.4 1235.2L1456.4 1235.2L1459.4 1235.3L1462.4 1235.3L1465.4 1235.4L1468.4 1235.4L1471.3 1235.5L1474.3 1235.6L1477.3 1235.6L1480.3 1235.7L1483.3 1235.7L1486.3 1235.8L1489.3 1235.9L1492.3 1235.9L1495.3 1236L1498.3 1236.1L1501.3 1236.1L1504.3 1236.2L1507.3 1236.3L1510.3 1236.3L1513.3 1236.4L1516.3 1236.4L1519.3 1236.5L1522.3 1236.6L1525.3 1236.6L1528.3 1236.7L1531.3 1236.7L1534.3 1236.8L1537.3 1236.8L1540.3 1236.9L1543.3 1237L1546.3 1237L1549.3 1237.1L1552.3 1237.1L1555.3 1237.1L1558.3 1237.2L1561.3 1237.2L1564.3 1237.3L1567.3 1237.3L1570.3 1237.4L1573.3 1237.4L1576.2 1237.4L1579.2 1237.5L1582.2 1237.5L1585.2 1237.6L1588.2 1237.6L1591.2 1237.6L1594.2 1237.7L1597.2 1237.7L1600.2 1237.7L1603.2 1237.8L1606.2 1237.8L1609.2 1237.8L1612.2 1237.8L1615.2 1237.9L1618.2 1237.9L1621.2 1237.9L1624.2 1238L1627.2 1238L1630.2 1238L1633.2 1238L1636.2 1238L1639.2 1238.1L1642.2 1238.1L1645.2 1238.1L1648.2 1238.1L1651.2 1238.1L1654.2 1238.1L1657.2 1238.2L1660.2 1238.2L1663.2 1238.2L1666.2 1238.2L1669.2 1238.2L1672.2 1238.2L1675.2 1238.2L1678.2 1238.2L1681.2 1238.3L1684.2 1238.3L1687.2 1238.3L1690.2 1238.3L1693.2 1238.3L1696.2 1238.3L1699.2 1238.3L1702.1 1238.3L1705.1 1238.3L1708.1 1238.3L1711.1 1238.3L1714.1 1238.3L1717.1 1238.3L1720.1 1238.3L1723.1 1238.4L1726.1 1238.4L1729.1 1238.4L1732.1 1238.4L1735.1 1238.4L1738.1 1238.4L1741.1 1238.4L1744.1 1238.4L1747.1 1238.4L1750.1 1238.5L1753.1 1238.5L1756.1 1238.5L1759.1 1238.5L1762.1 1238.5L1765.1 1238.5L1768.1 1238.5L1771.1 1238.6L1774.1 1238.6L1777.1 1238.6L1780.1 1238.6L1783.1 1238.6L1786.1 1238.6L1789.1 1238.7L1792.1 1238.7L1795.1 1238.7L1798.1 1238.7L1801.1 1238.7L1804.1 1238.8L1807.1 1238.8L1810.1 1238.8L1813.1 1238.8L1816.1 1238.8L1819.1 1238.9L1822.1 1238.9L1825.1 1238.9L1828 1238.9L1831 1239L1834 1239L1837 1239L1840 1239L1843 1239L1846 1239.1L1849 1239.1L1852 1239.1L1855 1239.1L1858 1239.2L1861 1239.2L1864 1239.2L1867 1239.2L1870 1239.2L1873 1239.3L1876 1239.3L1879 1239.3L1882 1239.3L1885 1239.3L1888 1239.4L1891 1239.4"/>
<path stroke="#008000" d="M388.6 930.9L391.6 931.2L394.6 931.6L397.5 932L400.5 932.5L403.4 933.2L406.2 934.1L409.1 935.2L411.8 936.4L414.5 937.7L417.1 939.2L419.6 940.8L422 942.5L424.4 944.4L426.6 946.4L428.8 948.4L430.9 950.6L433 952.8L434.9 955L436.9 957.3L438.8 959.6L440.6 962L442.4 964.4L444.3 966.8L446.1 969.2L447.8 971.6L449.6 974L451.4 976.4L453.1 978.8L454.9 981.3L456.6 983.7L458.4 986.1L460.1 988.6L461.8 991L463.6 993.5L465.3 995.9L467 998.4L468.7 1000.9L470.3 1003.4L472 1005.9L473.6 1008.4L475.3 1010.9L476.9 1013.4L478.5 1015.9L480.2 1018.4L481.8 1020.9L483.4 1023.4L485 1026L486.7 1028.5L488.3 1031L490 1033.5L491.6 1036L493.3 1038.5L495 1040.9L496.7 1043.4L498.4 1045.8L500.2 1048.3L501.9 1050.7L503.7 1053.1L505.5 1055.5L507.3 1057.9L509.1 1060.3L510.9 1062.7L512.8 1065L514.7 1067.4L516.6 1069.7L518.5 1072L520.5 1074.2L522.5 1076.4L524.6 1078.6L526.7 1080.8L528.8 1082.9L531 1084.9L533.2 1086.9L535.5 1088.9L537.8 1090.8L540.2 1092.6L542.6 1094.3L545.1 1096L547.6 1097.6L550.2 1099.2L552.8 1100.6L555.5 1101.9L558.2 1103.2L561 1104.3L563.8 1105.3L566.7 1106.2L569.6 1107L572.5 1107.7L575.4 1108.2L578.4 1108.6L581.4 1108.9L584.4 1109.1L587.4 1109.1L590.4 1109.1L593.4 1108.9L596.4 1108.6L599.3 1108.3L602.3 1107.9L605.3 1107.4L608.2 1106.8L611.1 1106.1L614 1105.4L616.9 1104.7L619.8 1103.8L622.7 1102.9L625.5 1102L628.3 1101L631.1 1099.9L633.9 1098.8L636.7 1097.6L639.4 1096.4L642.1 1095.1L644.8 1093.8L647.5 1092.5L650.1 1091.1L652.8 1089.6L655.4 1088.2L658 1086.7L660.5 1085.1L663.1 1083.6L665.7 1082L668.2 1080.4L670.8 1078.9L673.3 1077.3L675.9 1075.7L678.4 1074.1L681 1072.6L683.6 1071.1L686.1 1069.6L688.8 1068.1L691.4 1066.6L694 1065.2L696.7 1063.9L699.4 1062.6L702.2 1061.4L704.9 1060.2L707.7 1059.2L710.5 1058.2L713.4 1057.3L716.3 1056.4L719.2 1055.7L722.1 1055L725 1054.4L728 1053.9L730.9 1053.4L733.9 1053L736.9 1052.7L739.9 1052.5L742.9 1052.3L745.9 1052.2L748.9 1052.2L751.9 1052.2L754.9 1052.4L757.9 1052.5L760.8 1052.8L763.8 1053.1L766.8 1053.5L769.8 1053.9L772.7 1054.4L775.7 1055L778.6 1055.6L781.5 1056.2L784.4 1057L787.3 1057.7L790.2 1058.6L793.1 1059.4L795.9 1060.4L798.7 1061.3L801.6 1062.3L804.4 1063.4L807.2 1064.4L810 1065.6L812.7 1066.7L815.5 1067.9L818.2 1069.1L821 1070.3L823.7 1071.6L826.4 1072.9L829.1 1074.2L831.8 1075.5L834.4 1076.9L837.1 1078.2L839.8 1079.6L842.4 1081L845 1082.5L847.7 1083.9L850.3 1085.3L852.9 1086.8L855.5 1088.2L858.2 1089.7L860.8 1091.1L863.4 1092.6L866 1094.1L868.6 1095.6L871.2 1097.1L873.8 1098.5L876.4 1100L879 1101.5L881.6 1103L884.2 1104.5L886.8 1105.9L889.4 1107.4L892 1108.9L894.7 1110.4L897.3 1111.9L899.9 1113.3L902.5 1114.8L905.1 1116.3L907.7 1117.7L910.3 1119.2L913 1120.6L915.6 1122.1L918.2 1123.5L920.8 1125L923.5 1126.4L926.1 1127.8L928.7 1129.2L931.4 1130.6L934 1132L936.7 1133.4L939.4 1134.8L942 1136.2L944.7 1137.5L947.4 1138.9L950.1 1140.2L952.7 1141.5L955.4 1142.8L958.1 1144.1L960.8 1145.4L963.6 1146.7L966.3 1148L969 1149.2L971.7 1150.4L974.5 1151.7L977.2 1152.9L980 1154L982.7 1155.2L985.5 1156.4L988.3 1157.5L991 1158.7L993.8 1159.8L996.6 1160.9L999.4 1162L1002.2 1163.1L1005 1164.1L1007.8 1165.2L1010.6 1166.2L1013.4 1167.3L1016.2 1168.3L1019 1169.3L1021.9 1170.3L1024.7 1171.2L1027.5 1172.2L1030.4 1173.2L1033.2 1174.1L1036.1 1175L1038.9 1175.9L1041.8 1176.8L1044.7 1177.7L1047.5 1178.6L1050.4 1179.5L1053.3 1180.4L1056.1 1181.2L1059 1182L1061.9 1182.9L1064.8 1183.7L1067.7 1184.5L1070.5 1185.3L1073.4 1186.1L1076.3 1186.8L1079.2 1187.6L1082.1 1188.3L1085 1189.1L1087.9 1189.8L1090.9 1190.5L1093.8 1191.2L1096.7 1191.9L1099.6 1192.6L1102.5 1193.3L1105.4 1194L1108.4 1194.7L1111.3 1195.3L1114.2 1196L1117.1 1196.6L1120.1 1197.2L1123 1197.8L1125.9 1198.5L1128.9 1199.1L1131.8 1199.7L1134.7 1200.2L1137.7 1200.8L1140.6 1201.4L1143.6 1201.9L1146.5 1202.5L1149.5 1203L1152.4 1203.6L1155.4 1204.1L1158.3 1204.6L1161.3 1205.2L1164.2 1205.7L1167.2 1206.2L1170.1 1206.7L1173.1 1207.1L1176 1207.6L1179 1208.1L1181.9 1208.6L1184.9 1209L1187.9 1209.5L1190.8 1209.9L1193.8 1210.4L1196.8 1210.8L1199.7 1211.2L1202.7 1211.7L1205.7 1212.1L1208.6 1212.5L1211.6 1212.9L1214.6 1213.3L1217.5 1213.7L1220.5 1214.1L1223.5 1214.5L1226.5 1214.8L1229.4 1215.2L1232.4 1215.6L1235.4 1215.9L1238.4 1216.2L1241.3 1216.6L1244.3 1216.9L1247.3 1217.2L1250.3 1217.4L1253.3 1217.7L1256.3 1218L1259.2 1218.2L1262.2 1218.4L1265.2 1218.7L1268.2 1218.9L1271.2 1219.1L1274.2 1219.4L1277.2 1219.6L1280.2 1219.8L1283.1 1220L1286.1 1220.3L1289.1 1220.5L1292.1 1220.8L1295.1 1221L1298.1 1221.2L1301.1 1221.5L1304 1221.8L1307 1222L1310 1222.3L1313 1222.5L1316 1222.8L1319 1223L1322 1223.3L1325 1223.5L1327.9 1223.7L1330.9 1224L1333.9 1224.2L1336.9 1224.4L1339.9 1224.6L1342.9 1224.9L1345.9 1225.1L1348.9 1225.3L1351.8 1225.5L1354.8 1225.7L1357.8 1225.9L1360.8 1226.1L1363.8 1226.3L1366.8 1226.5L1369.8 1226.7L1372.8 1226.9L1375.8 1227.1L1378.8 1227.3L1381.7 1227.5L1384.7 1227.7L1387.7 1227.8L1390.7 1228L1393.7 1228.2L1396.7 1228.4L1399.7 1228.5L1402.7 1228.7L1405.7 1228.9L1408.7 1229L1411.7 1229.2L1414.7 1229.3L1417.7 1229.5L1420.6 1229.6L1423.6 1229.8L1426.6 1229.9L1429.6 1230.1L1432.6 1230.2L1435.6 1230.3L1438.6 1230.5L1441.6 1230.6L1444.6 1230.7L1447.6 1230.9L1450.6 1231L1453.6 1231.1L1456.6 1231.3L1459.6 1231.4L1462.6 1231.5L1465.5 1231.6L1468.5 1231.7L1471.5 1231.8L1474.5 1231.9L1477.5 1232.1L1480.5 1232.2L1483.5 1232.3L1486.5 1232.4L1489.5 1232.5L1492.5 1232.6L1495.5 1232.7L1498.5 1232.8L1501.5 1232.8L1504.5 1232.9L1507.5 1233L1510.5 1233.1L1513.5 1233.2L1516.5 1233.3L1519.5 1233.4L1522.5 1233.5L1525.4 1233.5L1528.4 1233.6L1531.4 1233.7L1534.4 1233.8L1537.4 1233.9L1540.4 1233.9L1543.4 1234L1546.4 1234.1L1549.4 1234.1L1552.4 1234.2L1555.4 1234.3L1558.4 1234.4L1561.4 1234.4L1564.4 1234.5L1567.4 1234.5L1570.4 1234.6L1573.4 1234.7L1576.4 1234.7L1579.4 1234.8L1582.4 1234.8L1585.4 1234.9L1588.4 1235L1591.4 1235L1594.4 1235.1L1597.3 1235.1L1600.3 1235.2L1603.3 1235.2L1606.3 1235.3L1609.3 1235.3L1612.3 1235.4L1615.3 1235.4L1618.3 1235.5L1621.3 1235.5L1624.3 1235.5L1627.3 1235.6L1630.3 1235.6L1633.3 1235.7L1636.3 1235.7L1639.3 1235.7L1642.3 1235.8L1645.3 1235.8L1648.3 1235.9L1651.3 1235.9L1654.3 1235.9L1657.3 1235.9L1660.3 1236L1663.3 1236L1666.3 1236L1669.3 1236.1L1672.3 1236.1L1675.3 1236.1L1678.2 1236.1L1681.2 1236.2L1684.2 1236.2L1687.2 1236.2L1690.2 1236.2L1693.2 1236.3L1696.2 1236.3L1699.2 1236.3L1702.2 1236.3L1705.2 1236.3L1708.2 1236.3L1711.2 1236.4L1714.2 1236.4L1717.2 1236.4L1720.2 1236.4L1723.2 1236.4L1726.2 1236.4L1729.2 1236.5L1732.2 1236.5L1735.2 1236.5L1738.2 1236.5L1741.2 1236.5L1744.2 1236.5L1747.2 1236.5L1750.2 1236.6L1753.2 1236.6L1756.2 1236.6L1759.2 1236.6L1762.2 1236.6L1765.1 1236.6L1768.1 1236.6L1771.1 1236.6L1774.1 1236.7L1777.1 1236.7L1780.1 1236.7L1783.1 1236.7L1786.1 1236.7L1789.1 1236.7L1792.1 1236.7L1795.1 1236.7L1798.1 1236.8L1801.1 1236.8L1804.1 1236.8L1807.1 1236.8L1810.1 1236.8L1813.1 1236.8L1816.1 1236.8L1819.1 1236.9L1822.1 1236.9L1825.1 1236.9L1828.1 1236.9L1831.1 1236.9L1834.1 1236.9L1837.1 1237L1840.1 1237L1843.1 1237L1846.1 1237L1849 1237L1852 1237.1L1855 1237.1L1858 1237.1L1861 1237.1L1864 1237.2L1867 1237.2L1870 1237.2L1873 1237.2L1876 1237.3L1879 1237.3L1882 1237.3L1885 1237.3L1888 1237.4L1891 1237.4"/>
<path stroke="#000080" d="M388.6 947.5L391.4 946.4L394.2 945.3L397 944.4L399.9 943.6L402.9 942.9L405.8 942.5L408.8 942.4L411.8 942.5L414.8 942.9L417.7 943.5L420.6 944.3L423.5 945.2L426.2 946.3L429 947.6L431.7 948.9L434.3 950.4L436.9 951.9L439.4 953.4L442 955.1L444.4 956.7L446.9 958.5L449.3 960.2L451.8 962L454.2 963.7L456.6 965.5L459 967.3L461.4 969.1L463.8 970.9L466.2 972.7L468.7 974.5L471 976.3L473.4 978.1L475.8 980L478.1 981.9L480.4 983.8L482.7 985.7L485 987.7L487.2 989.6L489.5 991.6L491.8 993.5L494.1 995.4L496.5 997.3L498.9 999.1L501.3 1000.8L503.8 1002.5L506.3 1004.1L508.9 1005.7L511.5 1007.2L514.1 1008.6L516.8 1009.9L519.6 1011.1L522.3 1012.3L525.2 1013.3L528 1014.2L530.9 1015L533.8 1015.6L536.8 1016.1L539.8 1016.4L542.8 1016.6L545.8 1016.6L548.8 1016.5L551.8 1016.3L554.7 1015.9L557.7 1015.4L560.6 1014.7L563.5 1014L566.4 1013.1L569.2 1012.1L572 1011L574.8 1009.8L577.5 1008.5L580.1 1007.1L582.7 1005.6L585.3 1004.1L587.8 1002.5L590.3 1000.8L592.8 999.1L595.2 997.3L597.6 995.5L599.9 993.6L602.2 991.7L604.5 989.8L606.8 987.8L609 985.8L611.3 983.8L613.4 981.8L615.6 979.7L617.8 977.6L619.9 975.5L622 973.4L624.2 971.3L626.3 969.1L628.4 967L630.4 964.8L632.5 962.7L634.6 960.5L636.7 958.3L638.7 956.1L640.8 954L642.9 951.8L644.9 949.6L647 947.5L649.1 945.3L651.2 943.1L653.3 941L655.4 938.9L657.5 936.8L659.7 934.7L661.8 932.6L664 930.5L666.2 928.5L668.4 926.5L670.7 924.5L672.9 922.5L675.2 920.6L677.5 918.7L679.9 916.8L682.2 915L684.6 913.1L687.1 911.4L689.5 909.7L692 908L694.5 906.3L697.1 904.8L699.7 903.3L702.3 901.8L704.9 900.4L707.6 899.1L710.4 897.9L713.1 896.7L715.9 895.6L718.8 894.6L721.6 893.7L724.5 892.8L727.4 892.1L730.3 891.4L733.3 890.8L736.2 890.3L739.2 889.9L742.2 889.6L745.2 889.4L748.2 889.3L751.2 889.2L754.2 889.3L757.2 889.4L760.2 889.6L763.1 889.9L766.1 890.3L769.1 890.7L772 891.2L775 891.9L777.9 892.6L780.8 893.3L783.6 894.2L786.5 895.2L789.3 896.2L792.1 897.4L794.8 898.6L797.5 899.8L800.2 901.2L802.9 902.6L805.5 904.1L808 905.6L810.6 907.2L813.1 908.9L815.6 910.5L818 912.3L820.5 914L822.9 915.8L825.2 917.6L827.6 919.5L829.9 921.4L832.3 923.3L834.6 925.2L836.9 927.1L839.2 929.1L841.4 931L843.7 933L846 934.9L848.2 936.9L850.4 938.9L852.7 940.9L854.9 942.9L857.1 945L859.3 947L861.6 949L863.8 951L865.9 953.1L868.1 955.1L870.3 957.2L872.5 959.2L874.7 961.3L876.9 963.4L879 965.4L881.2 967.5L883.4 969.6L885.5 971.7L887.7 973.8L889.8 975.9L892 977.9L894.1 980L896.3 982.1L898.4 984.2L900.6 986.3L902.7 988.4L904.9 990.5L907 992.6L909.2 994.7L911.3 996.7L913.5 998.8L915.7 1000.9L917.8 1003L920 1005.1L922.1 1007.2L924.3 1009.2L926.5 1011.3L928.7 1013.4L930.8 1015.4L933 1017.5L935.2 1019.5L937.4 1021.6L939.6 1023.6L941.8 1025.6L944 1027.7L946.2 1029.7L948.5 1031.7L950.7 1033.7L952.9 1035.7L955.2 1037.7L957.4 1039.7L959.7 1041.6L962 1043.6L964.3 1045.5L966.6 1047.5L968.9 1049.4L971.2 1051.3L973.5 1053.2L975.8 1055.1L978.1 1057L980.5 1058.8L982.9 1060.7L985.2 1062.5L987.6 1064.3L990 1066.2L992.4 1067.9L994.8 1069.7L997.3 1071.5L999.7 1073.2L1002.2 1074.9L1004.6 1076.6L1007.1 1078.3L1009.6 1080L1012.1 1081.7L1014.6 1083.3L1017.1 1084.9L1019.6 1086.6L1022.2 1088.2L1024.7 1089.8L1027.3 1091.3L1029.8 1092.9L1032.4 1094.5L1035 1096L1037.5 1097.5L1040.1 1099.1L1042.7 1100.6L1045.3 1102.1L1047.9 1103.6L1050.5 1105.1L1053.1 1106.5L1055.8 1108L1058.4 1109.4L1061 1110.9L1063.7 1112.3L1066.3 1113.7L1069 1115.1L1071.6 1116.5L1074.3 1117.8L1077 1119.2L1079.7 1120.5L1082.3 1121.9L1085 1123.2L1087.7 1124.5L1090.4 1125.9L1093.1 1127.2L1095.8 1128.5L1098.5 1129.9L1101.1 1131.2L1103.8 1132.5L1106.5 1133.9L1109.2 1135.2L1111.9 1136.6L1114.6 1137.9L1117.3 1139.2L1120 1140.5L1122.6 1141.9L1125.3 1143.2L1128 1144.5L1130.8 1145.8L1133.5 1147.1L1136.2 1148.3L1138.9 1149.6L1141.6 1150.9L1144.3 1152.1L1147.1 1153.3L1149.8 1154.5L1152.6 1155.7L1155.3 1156.9L1158.1 1158.1L1160.9 1159.2L1163.6 1160.4L1166.4 1161.5L1169.2 1162.6L1172 1163.7L1174.8 1164.8L1177.6 1165.8L1180.4 1166.9L1183.2 1167.9L1186.1 1168.9L1188.9 1169.9L1191.7 1170.9L1194.5 1171.9L1197.4 1172.9L1200.2 1173.8L1203.1 1174.8L1205.9 1175.7L1208.8 1176.6L1211.6 1177.5L1214.5 1178.4L1217.4 1179.3L1220.3 1180.2L1223.1 1181L1226 1181.8L1228.9 1182.7L1231.8 1183.5L1234.7 1184.3L1237.6 1185.1L1240.5 1185.8L1243.4 1186.6L1246.3 1187.3L1249.2 1188L1252.1 1188.7L1255 1189.4L1257.9 1190.1L1260.9 1190.8L1263.8 1191.4L1266.7 1192.1L1269.7 1192.7L1272.6 1193.3L1275.5 1193.9L1278.5 1194.5L1281.4 1195.1L1284.3 1195.7L1287.3 1196.3L1290.2 1196.9L1293.2 1197.5L1296.1 1198.1L1299.1 1198.6L1302 1199.2L1305 1199.8L1307.9 1200.3L1310.9 1200.9L1313.8 1201.4L1316.8 1201.9L1319.7 1202.5L1322.7 1203L1325.6 1203.5L1328.6 1204L1331.5 1204.5L1334.5 1205L1337.4 1205.5L1340.4 1206L1343.4 1206.5L1346.3 1206.9L1349.3 1207.4L1352.3 1207.9L1355.2 1208.3L1358.2 1208.8L1361.1 1209.2L1364.1 1209.6L1367.1 1210.1L1370.1 1210.5L1373 1210.9L1376 1211.3L1379 1211.7L1381.9 1212.1L1384.9 1212.5L1387.9 1212.9L1390.9 1213.3L1393.8 1213.7L1396.8 1214.1L1399.8 1214.4L1402.8 1214.8L1405.7 1215.2L1408.7 1215.5L1411.7 1215.9L1414.7 1216.2L1417.7 1216.6L1420.6 1216.9L1423.6 1217.2L1426.6 1217.6L1429.6 1217.9L1432.6 1218.2L1435.5 1218.5L1438.5 1218.8L1441.5 1219.1L1444.5 1219.4L1447.5 1219.7L1450.5 1220L1453.5 1220.3L1456.4 1220.6L1459.4 1220.8L1462.4 1221.1L1465.4 1221.4L1468.4 1221.6L1471.4 1221.9L1474.4 1222.2L1477.4 1222.4L1480.3 1222.7L1483.3 1222.9L1486.3 1223.1L1489.3 1223.4L1492.3 1223.6L1495.3 1223.8L1498.3 1224.1L1501.3 1224.3L1504.3 1224.5L1507.3 1224.7L1510.3 1224.9L1513.2 1225.2L1516.2 1225.4L1519.2 1225.6L1522.2 1225.8L1525.2 1225.9L1528.2 1226.1L1531.2 1226.3L1534.2 1226.5L1537.2 1226.7L1540.2 1226.9L1543.2 1227L1546.2 1227.2L1549.2 1227.4L1552.2 1227.5L1555.2 1227.7L1558.2 1227.9L1561.2 1228L1564.1 1228.2L1567.1 1228.3L1570.1 1228.5L1573.1 1228.6L1576.1 1228.8L1579.1 1228.9L1582.1 1229L1585.1 1229.2L1588.1 1229.3L1591.1 1229.4L1594.1 1229.5L1597.1 1229.7L1600.1 1229.8L1603.1 1229.9L1606.1 1230L1609.1 1230.1L1612.1 1230.2L1615.1 1230.3L1618.1 1230.4L1621.1 1230.5L1624.1 1230.6L1627.1 1230.7L1630.1 1230.8L1633.1 1230.9L1636.1 1231L1639.1 1231.1L1642.1 1231.2L1645.1 1231.3L1648.1 1231.3L1651.1 1231.4L1654.1 1231.5L1657.1 1231.6L1660.1 1231.6L1663.1 1231.7L1666.1 1231.8L1669.1 1231.8L1672.1 1231.9L1675.1 1232L1678.1 1232L1681.1 1232.1L1684.1 1232.1L1687.1 1232.2L1690.1 1232.2L1693 1232.3L1696 1232.3L1699 1232.4L1702 1232.4L1705 1232.5L1708 1232.5L1711 1232.6L1714 1232.6L1717 1232.6L1720 1232.7L1723 1232.7L1726 1232.8L1729 1232.8L1732 1232.8L1735 1232.9L1738 1232.9L1741 1232.9L1744 1232.9L1747 1233L1750 1233L1753 1233L1756 1233.1L1759 1233.1L1762 1233.1L1765 1233.1L1768 1233.2L1771 1233.2L1774 1233.2L1777 1233.3L1780 1233.3L1783 1233.3L1786 1233.3L1789 1233.3L1792 1233.4L1795 1233.4L1798 1233.4L1801 1233.4L1804 1233.5L1807 1233.5L1810 1233.5L1813 1233.5L1816 1233.6L1819 1233.6L1822 1233.6L1825 1233.6L1828 1233.7L1831 1233.7L1834 1233.7L1837 1233.7L1840 1233.8L1843 1233.8L1846 1233.8L1849 1233.8L1852 1233.9L1855 1233.9L1858 1233.9L1861 1234L1864 1234L1867 1234L1870 1234L1873 1234.1L1876 1234.1L1879 1234.2L1882 1234.2L1885 1234.2L1888 1234.3L1891 1234.3"/>
<path stroke="#8000ff" d="M388.6 946.8L391 945L393.4 943.2L395.9 941.6L398.5 940.1L401.1 938.6L403.8 937.3L406.5 936L409.3 934.9L412.1 933.9L415 933L417.9 932.4L420.9 931.8L423.8 931.3L426.8 931L429.8 930.7L432.8 930.4L435.8 930.3L438.7 930.1L441.7 930L444.7 929.9L447.7 929.8L450.7 929.7L453.7 929.7L456.7 929.6L459.7 929.5L462.7 929.5L465.7 929.4L468.7 929.4L471.7 929.4L474.7 929.4L477.7 929.4L480.7 929.3L483.7 929.2L486.7 929L489.6 928.7L492.6 928.3L495.6 927.8L498.5 927.1L501.4 926.3L504.2 925.4L507 924.4L509.8 923.3L512.5 922L515.2 920.7L517.9 919.4L520.5 917.9L523.1 916.4L525.7 914.9L528.2 913.3L530.7 911.7L533.2 910L535.7 908.2L538.1 906.5L540.4 904.7L542.8 902.8L545.1 900.9L547.4 899L549.7 897L551.9 895L554.1 893L556.3 890.9L558.4 888.8L560.5 886.7L562.6 884.5L564.6 882.3L566.6 880.1L568.6 877.8L570.6 875.6L572.5 873.3L574.4 871L576.3 868.7L578.2 866.3L580 863.9L581.8 861.5L583.5 859.1L585.3 856.7L587 854.2L588.6 851.7L590.3 849.2L591.9 846.7L593.5 844.1L595 841.6L596.6 839L598.1 836.4L599.6 833.8L601.1 831.2L602.6 828.6L604.1 826L605.5 823.4L607 820.8L608.5 818.2L609.9 815.6L611.4 813L612.9 810.4L614.4 807.8L615.8 805.2L617.3 802.6L618.8 800L620.3 797.4L621.8 794.8L623.4 792.2L624.9 789.6L626.4 787.1L628 784.5L629.5 782L631.1 779.4L632.7 776.9L634.3 774.3L635.9 771.8L637.6 769.3L639.2 766.8L640.9 764.3L642.6 761.9L644.3 759.4L646 756.9L647.8 754.5L649.5 752.1L651.3 749.6L653 747.2L654.8 744.8L656.6 742.4L658.3 740L660.1 737.5L661.8 735.1L663.5 732.6L665.2 730.2L667 727.7L668.7 725.3L670.5 722.9L672.2 720.5L674 718.1L675.9 715.7L677.8 713.4L679.7 711.1L681.7 708.8L683.7 706.6L685.7 704.4L687.8 702.3L689.9 700.1L692.1 698.1L694.3 696.1L696.6 694.2L699 692.3L701.4 690.5L703.9 688.8L706.4 687.3L709 685.8L711.7 684.4L714.4 683.1L717.1 681.9L719.9 680.8L722.7 679.8L725.6 678.9L728.4 678L731.3 677.2L734.3 676.5L737.2 675.9L740.1 675.4L743.1 675L746.1 674.7L749.1 674.5L752.1 674.4L755.1 674.4L758.1 674.5L761 674.8L764 675.1L767 675.6L769.9 676.2L772.8 677L775.7 677.8L778.5 678.8L781.3 679.9L784 681.1L786.7 682.4L789.4 683.8L792 685.3L794.5 686.8L797.1 688.4L799.5 690.1L802 691.9L804.4 693.7L806.7 695.6L809 697.5L811.3 699.4L813.5 701.4L815.7 703.5L817.8 705.6L820 707.7L822.1 709.8L824.1 712L826.2 714.2L828.2 716.4L830.2 718.6L832.1 720.9L834.1 723.2L836 725.5L837.9 727.8L839.8 730.1L841.7 732.4L843.6 734.7L845.5 737.1L847.3 739.5L849.1 741.8L850.9 744.2L852.7 746.6L854.5 749L856.3 751.4L858.1 753.8L859.8 756.3L861.5 758.7L863.3 761.2L865 763.6L866.7 766.1L868.4 768.6L870.1 771L871.8 773.5L873.4 776L875.1 778.5L876.8 781L878.4 783.5L880 786L881.7 788.5L883.3 791L884.9 793.5L886.6 796L888.2 798.6L889.8 801.1L891.4 803.6L893 806.1L894.6 808.7L896.2 811.2L897.8 813.7L899.4 816.3L901 818.8L902.6 821.3L904.2 823.9L905.8 826.4L907.4 829L909 831.5L910.6 834L912.2 836.6L913.8 839.1L915.4 841.6L917 844.1L918.6 846.7L920.2 849.2L921.9 851.7L923.5 854.2L925.1 856.7L926.8 859.2L928.4 861.7L930.1 864.2L931.7 866.7L933.4 869.2L935.1 871.7L936.7 874.2L938.4 876.6L940.1 879.1L941.8 881.6L943.6 884L945.3 886.5L947 888.9L948.8 891.3L950.6 893.7L952.4 896.2L954.1 898.6L955.9 900.9L957.8 903.3L959.6 905.7L961.4 908.1L963.3 910.4L965.1 912.8L967 915.1L968.9 917.5L970.7 919.8L972.6 922.1L974.5 924.4L976.4 926.7L978.4 929L980.3 931.3L982.2 933.6L984.2 935.9L986.1 938.2L988.1 940.4L990.1 942.7L992 944.9L994 947.2L996 949.4L998 951.7L1000 953.9L1002 956.1L1004 958.3L1006 960.5L1008.1 962.7L1010.1 964.9L1012.1 967.1L1014.2 969.3L1016.2 971.5L1018.3 973.7L1020.4 975.9L1022.4 978L1024.5 980.2L1026.6 982.4L1028.6 984.5L1030.7 986.7L1032.8 988.8L1034.9 991L1037 993.1L1039.1 995.2L1041.2 997.4L1043.3 999.5L1045.5 1001.6L1047.6 1003.7L1049.8 1005.8L1051.9 1007.8L1054.1 1009.9L1056.3 1011.9L1058.5 1014L1060.7 1016L1062.9 1018L1065.1 1020.1L1067.3 1022.1L1069.6 1024.1L1071.8 1026.1L1074 1028.1L1076.3 1030L1078.5 1032L1080.8 1034L1083 1036L1085.3 1037.9L1087.5 1039.9L1089.8 1041.9L1092 1043.8L1094.3 1045.8L1096.6 1047.8L1098.8 1049.8L1101.1 1051.8L1103.3 1053.7L1105.5 1055.7L1107.8 1057.7L1110 1059.7L1112.3 1061.7L1114.5 1063.7L1116.8 1065.6L1119 1067.6L1121.3 1069.6L1123.6 1071.5L1125.9 1073.4L1128.1 1075.4L1130.5 1077.3L1132.8 1079.2L1135.1 1081.1L1137.4 1082.9L1139.8 1084.8L1142.1 1086.7L1144.5 1088.5L1146.9 1090.3L1149.3 1092.1L1151.7 1093.9L1154.1 1095.7L1156.5 1097.4L1159 1099.1L1161.4 1100.9L1163.9 1102.6L1166.4 1104.3L1168.9 1105.9L1171.4 1107.6L1173.9 1109.2L1176.4 1110.9L1178.9 1112.5L1181.4 1114.1L1184 1115.6L1186.5 1117.2L1189.1 1118.8L1191.7 1120.3L1194.2 1121.8L1196.8 1123.3L1199.4 1124.8L1202 1126.3L1204.7 1127.8L1207.3 1129.2L1209.9 1130.6L1212.5 1132.1L1215.2 1133.5L1217.8 1134.8L1220.5 1136.2L1223.2 1137.6L1225.9 1138.9L1228.5 1140.3L1231.2 1141.6L1233.9 1142.9L1236.6 1144.2L1239.3 1145.4L1242.1 1146.7L1244.8 1147.9L1247.5 1149.1L1250.3 1150.3L1253 1151.5L1255.8 1152.7L1258.6 1153.8L1261.3 1155L1264.1 1156.1L1266.9 1157.2L1269.7 1158.3L1272.5 1159.4L1275.3 1160.4L1278.1 1161.5L1280.9 1162.6L1283.7 1163.6L1286.5 1164.6L1289.3 1165.6L1292.1 1166.6L1295 1167.6L1297.8 1168.6L1300.6 1169.6L1303.5 1170.6L1306.3 1171.6L1309.1 1172.5L1312 1173.4L1314.8 1174.4L1317.7 1175.3L1320.5 1176.2L1323.4 1177.1L1326.2 1178L1329.1 1178.9L1332 1179.7L1334.8 1180.6L1337.7 1181.4L1340.6 1182.3L1343.5 1183.1L1346.4 1183.9L1349.2 1184.7L1352.1 1185.5L1355 1186.3L1357.9 1187.1L1360.8 1187.8L1363.7 1188.6L1366.6 1189.3L1369.5 1190.1L1372.4 1190.8L1375.3 1191.5L1378.2 1192.2L1381.2 1192.9L1384.1 1193.6L1387 1194.3L1389.9 1194.9L1392.8 1195.6L1395.8 1196.2L1398.7 1196.9L1401.6 1197.5L1404.5 1198.1L1407.5 1198.7L1410.4 1199.4L1413.3 1199.9L1416.3 1200.5L1419.2 1201.1L1422.2 1201.7L1425.1 1202.2L1428.1 1202.8L1431 1203.3L1433.9 1203.9L1436.9 1204.4L1439.8 1204.9L1442.8 1205.4L1445.7 1206L1448.7 1206.4L1451.7 1206.9L1454.6 1207.4L1457.6 1207.9L1460.5 1208.4L1463.5 1208.8L1466.5 1209.3L1469.4 1209.7L1472.4 1210.2L1475.3 1210.6L1478.3 1211L1481.3 1211.4L1484.2 1211.8L1487.2 1212.2L1490.2 1212.6L1493.1 1213L1496.1 1213.4L1499.1 1213.8L1502.1 1214.2L1505 1214.5L1508 1214.9L1511 1215.2L1514 1215.6L1516.9 1215.9L1519.9 1216.2L1522.9 1216.6L1525.9 1216.9L1528.9 1217.2L1531.8 1217.5L1534.8 1217.8L1537.8 1218.1L1540.8 1218.4L1543.8 1218.6L1546.7 1218.9L1549.7 1219.2L1552.7 1219.4L1555.7 1219.7L1558.7 1219.9L1561.7 1220.2L1564.7 1220.4L1567.6 1220.7L1570.6 1220.9L1573.6 1221.1L1576.6 1221.3L1579.6 1221.5L1582.6 1221.7L1585.6 1221.9L1588.6 1222.1L1591.5 1222.3L1594.5 1222.5L1597.5 1222.7L1600.5 1222.9L1603.5 1223L1606.5 1223.2L1609.5 1223.4L1612.5 1223.5L1615.5 1223.7L1618.5 1223.8L1621.5 1224L1624.4 1224.1L1627.4 1224.2L1630.4 1224.4L1633.4 1224.5L1636.4 1224.6L1639.4 1224.7L1642.4 1224.9L1645.4 1225L1648.4 1225.1L1651.4 1225.2L1654.4 1225.3L1657.4 1225.4L1660.4 1225.5L1663.4 1225.6L1666.4 1225.6L1669.4 1225.7L1672.3 1225.8L1675.3 1225.9L1678.3 1226L1681.3 1226L1684.3 1226.1L1687.3 1226.2L1690.3 1226.2L1693.3 1226.3L1696.3 1226.3L1699.3 1226.4L1702.3 1226.4L1705.3 1226.5L1708.3 1226.5L1711.3 1226.6L1714.3 1226.6L1717.3 1226.7L1720.3 1226.7L1723.3 1226.8L1726.3 1226.8L1729.3 1226.8L1732.2 1226.9L1735.2 1226.9L1738.2 1227L1741.2 1227L1744.2 1227L1747.2 1227.1L1750.2 1227.1L1753.2 1227.1L1756.2 1227.2L1759.2 1227.2L1762.2 1227.2L1765.2 1227.3L1768.2 1227.3L1771.2 1227.3L1774.2 1227.4L1777.2 1227.4L1780.2 1227.4L1783.2 1227.5L1786.2 1227.5L1789.2 1227.5L1792.2 1227.5L1795.1 1227.6L1798.1 1227.6L1801.1 1227.6L1804.1 1227.7L1807.1 1227.7L1810.1 1227.7L1813.1 1227.8L1816.1 1227.8L1819.1 1227.8L1822.1 1227.9L1825.1 1227.9L1828.1 1227.9L1831.1 1227.9L1834.1 1228L1837.1 1228L1840.1 1228.1L1843.1 1228.1L1846.1 1228.1L1849.1 1228.2L1852.1 1228.2L1855.1 1228.2L1858.1 1228.3L1861 1228.3L1864 1228.4L1867 1228.4L1870 1228.5L1873 1228.5L1876 1228.5L1879 1228.6L1882 1228.6L1885 1228.7L1888 1228.7L1891 1228.8"/>
<path stroke="#800080" d="M388.6 972.2L391.1 970.7L393.6 969L396.1 967.3L398.6 965.6L401 963.9L403.5 962.2L406 960.5L408.4 958.8L410.9 957.1L413.4 955.4L415.9 953.8L418.4 952.2L421 950.6L423.5 949L426.1 947.4L428.7 945.9L431.3 944.4L433.9 943L436.5 941.5L439.1 940L441.8 938.6L444.4 937.1L447 935.6L449.6 934.1L452.1 932.6L454.7 931L457.2 929.4L459.7 927.7L462.2 926L464.6 924.3L467 922.5L469.4 920.6L471.7 918.8L474 916.8L476.3 914.9L478.6 912.9L480.8 911L483 909L485.3 906.9L487.5 904.9L489.7 902.9L491.9 900.8L494 898.8L496.2 896.7L498.3 894.6L500.5 892.5L502.6 890.4L504.7 888.2L506.8 886.1L508.9 883.9L510.9 881.7L513 879.5L515 877.3L517 875.1L519 872.9L521 870.6L522.9 868.3L524.8 866L526.7 863.7L528.6 861.4L530.4 859L532.2 856.6L534 854.2L535.7 851.7L537.4 849.2L539.1 846.7L540.7 844.2L542.3 841.7L543.9 839.2L545.5 836.6L547.1 834.1L548.7 831.5L550.3 829L551.8 826.4L553.4 823.9L555 821.4L556.6 818.8L558.2 816.3L559.8 813.7L561.4 811.2L562.9 808.6L564.5 806.1L566 803.5L567.5 800.9L569 798.3L570.5 795.7L572 793.1L573.5 790.5L574.9 787.8L576.3 785.2L577.7 782.5L579.1 779.9L580.5 777.2L581.8 774.5L583.1 771.9L584.4 769.2L585.7 766.4L587 763.7L588.3 761L589.5 758.3L590.7 755.6L592 752.8L593.2 750.1L594.3 747.3L595.5 744.6L596.7 741.8L597.9 739L599 736.3L600.1 733.5L601.3 730.7L602.4 727.9L603.5 725.2L604.6 722.4L605.8 719.6L606.9 716.8L608 714L609.1 711.2L610.2 708.5L611.3 705.7L612.4 702.9L613.6 700.1L614.7 697.3L615.8 694.6L617 691.8L618.1 689L619.3 686.3L620.5 683.5L621.7 680.8L622.9 678L624.2 675.3L625.4 672.6L626.7 669.9L628 667.2L629.3 664.5L630.7 661.8L632.1 659.1L633.4 656.5L634.9 653.8L636.3 651.2L637.7 648.6L639.2 646L640.7 643.4L642.2 640.8L643.7 638.2L645.2 635.6L646.7 633L648.2 630.4L649.8 627.8L651.3 625.2L652.8 622.6L654.3 620.1L655.8 617.4L657.2 614.8L658.7 612.2L660.1 609.6L661.6 607L663 604.3L664.5 601.7L666 599.1L667.5 596.5L669 593.9L670.6 591.4L672.1 588.8L673.8 586.3L675.4 583.8L677.1 581.3L678.9 578.9L680.6 576.5L682.4 574.1L684.2 571.7L686.1 569.3L688 567L689.9 564.7L691.8 562.4L693.8 560.2L695.9 558L697.9 555.8L700.1 553.7L702.2 551.6L704.4 549.6L706.7 547.6L709 545.7L711.4 543.9L713.8 542.1L716.3 540.4L718.8 538.8L721.4 537.3L724 535.9L726.7 534.5L729.5 533.3L732.2 532.2L735.1 531.2L738 530.4L740.9 529.7L743.8 529.2L746.8 528.8L749.8 528.6L752.8 528.5L755.8 528.6L758.8 528.9L761.7 529.3L764.7 529.9L767.6 530.6L770.5 531.4L773.3 532.4L776.1 533.5L778.8 534.7L781.5 536L784.2 537.4L786.8 538.9L789.3 540.6L791.7 542.3L794.1 544.1L796.4 546L798.7 548L800.9 550L803 552.1L805.1 554.2L807.2 556.4L809.2 558.6L811.2 560.9L813.2 563.2L815.1 565.5L817 567.8L818.9 570.1L820.7 572.5L822.5 574.8L824.3 577.2L826.1 579.7L827.9 582.1L829.6 584.5L831.3 587L833 589.5L834.7 592L836.3 594.5L838 597L839.6 599.5L841.2 602L842.9 604.5L844.5 607.1L846.1 609.6L847.7 612.1L849.2 614.7L850.8 617.2L852.4 619.8L853.9 622.4L855.4 625L856.9 627.5L858.5 630.1L860 632.7L861.5 635.3L863 637.9L864.5 640.5L865.9 643.1L867.4 645.7L868.9 648.3L870.4 650.9L871.9 653.5L873.3 656.1L874.8 658.8L876.3 661.4L877.8 664L879.3 666.6L880.7 669.2L882.2 671.8L883.7 674.4L885.2 677L886.7 679.6L888.2 682.2L889.7 684.8L891.1 687.4L892.6 690L894.1 692.6L895.6 695.2L897.1 697.8L898.6 700.4L900.1 703L901.6 705.6L903.1 708.2L904.6 710.8L906.1 713.4L907.6 716L909.1 718.6L910.6 721.2L912.1 723.8L913.6 726.4L915.1 729L916.6 731.6L918.1 734.2L919.6 736.8L921 739.4L922.5 742L924 744.6L925.5 747.2L927 749.8L928.5 752.4L930 755L931.5 757.6L933 760.2L934.5 762.8L936 765.4L937.4 768L938.9 770.6L940.4 773.2L941.9 775.8L943.4 778.4L944.9 781L946.4 783.6L947.9 786.2L949.4 788.8L950.9 791.4L952.4 794L953.9 796.6L955.4 799.2L956.9 801.8L958.4 804.4L959.9 807L961.4 809.5L963 812.1L964.5 814.7L966 817.3L967.5 819.8L969.1 822.4L970.6 825L972.2 827.6L973.7 830.1L975.3 832.7L976.9 835.2L978.4 837.8L980 840.3L981.6 842.9L983.2 845.4L984.8 848L986.4 850.5L988 853L989.6 855.5L991.2 858.1L992.9 860.6L994.5 863.1L996.1 865.6L997.8 868.1L999.4 870.6L1001.1 873.1L1002.8 875.6L1004.5 878.1L1006.1 880.6L1007.8 883L1009.5 885.5L1011.3 888L1013 890.4L1014.7 892.9L1016.5 895.3L1018.2 897.7L1020 900.2L1021.7 902.6L1023.5 905L1025.3 907.4L1027.1 909.8L1028.9 912.2L1030.7 914.6L1032.6 916.9L1034.4 919.3L1036.3 921.7L1038.1 924L1040 926.4L1041.9 928.7L1043.7 931L1045.6 933.4L1047.5 935.7L1049.4 938L1051.4 940.3L1053.3 942.6L1055.2 944.9L1057.1 947.2L1059.1 949.5L1061 951.7L1063 954L1065 956.3L1066.9 958.6L1068.9 960.8L1070.9 963.1L1072.8 965.3L1074.8 967.6L1076.8 969.8L1078.8 972L1080.8 974.3L1082.8 976.5L1084.8 978.7L1086.8 981L1088.8 983.2L1090.8 985.5L1092.8 987.7L1094.8 989.9L1096.8 992.2L1098.8 994.4L1100.8 996.6L1102.8 998.9L1104.8 1001.1L1106.8 1003.4L1108.8 1005.6L1110.8 1007.8L1112.8 1010L1114.8 1012.3L1116.8 1014.5L1118.8 1016.7L1120.8 1018.9L1122.9 1021.1L1124.9 1023.3L1126.9 1025.6L1128.9 1027.8L1131 1030L1133 1032.2L1135.1 1034.4L1137.1 1036.5L1139.2 1038.7L1141.2 1040.9L1143.3 1043.1L1145.4 1045.2L1147.5 1047.4L1149.6 1049.5L1151.7 1051.6L1153.8 1053.7L1156 1055.8L1158.1 1057.9L1160.3 1060L1162.5 1062.1L1164.6 1064.1L1166.9 1066.1L1169.1 1068.1L1171.4 1070.1L1173.6 1072.1L1175.9 1074L1178.2 1075.9L1180.6 1077.8L1182.9 1079.7L1185.3 1081.5L1187.6 1083.3L1190 1085.1L1192.4 1087L1194.8 1088.7L1197.2 1090.5L1199.7 1092.3L1202.1 1094L1204.5 1095.8L1207 1097.5L1209.5 1099.2L1211.9 1100.9L1214.4 1102.6L1216.9 1104.3L1219.4 1105.9L1221.9 1107.5L1224.4 1109.2L1227 1110.8L1229.5 1112.4L1232 1114L1234.6 1115.5L1237.2 1117.1L1239.7 1118.6L1242.3 1120.2L1244.9 1121.7L1247.5 1123.2L1250 1124.7L1252.6 1126.2L1255.3 1127.7L1257.9 1129.2L1260.5 1130.6L1263.1 1132.1L1265.8 1133.5L1268.4 1134.9L1271.1 1136.3L1273.7 1137.7L1276.4 1139.1L1279 1140.4L1281.7 1141.8L1284.4 1143.1L1287.1 1144.4L1289.8 1145.7L1292.5 1147L1295.2 1148.3L1297.9 1149.6L1300.7 1150.8L1303.4 1152L1306.1 1153.3L1308.9 1154.5L1311.6 1155.6L1314.4 1156.8L1317.2 1158L1319.9 1159.1L1322.7 1160.3L1325.5 1161.4L1328.3 1162.5L1331.1 1163.6L1333.9 1164.7L1336.7 1165.7L1339.5 1166.8L1342.3 1167.8L1345.1 1168.8L1347.9 1169.8L1350.8 1170.8L1353.6 1171.8L1356.4 1172.8L1359.3 1173.8L1362.1 1174.7L1365 1175.6L1367.8 1176.6L1370.7 1177.5L1373.5 1178.4L1376.4 1179.3L1379.3 1180.1L1382.1 1181L1385 1181.8L1387.9 1182.7L1390.8 1183.5L1393.7 1184.3L1396.5 1185.1L1399.4 1185.9L1402.3 1186.7L1405.2 1187.5L1408.1 1188.2L1411 1189L1413.9 1189.7L1416.8 1190.4L1419.8 1191.1L1422.7 1191.9L1425.6 1192.5L1428.5 1193.2L1431.4 1193.9L1434.4 1194.6L1437.3 1195.2L1440.2 1195.9L1443.1 1196.5L1446.1 1197.1L1449 1197.7L1451.9 1198.3L1454.9 1198.9L1457.8 1199.5L1460.8 1200.1L1463.7 1200.7L1466.7 1201.2L1469.6 1201.8L1472.5 1202.3L1475.5 1202.9L1478.4 1203.4L1481.4 1203.9L1484.4 1204.4L1487.3 1204.9L1490.3 1205.4L1493.2 1205.9L1496.2 1206.4L1499.1 1206.9L1502.1 1207.3L1505.1 1207.8L1508 1208.2L1511 1208.7L1514 1209.1L1516.9 1209.5L1519.9 1209.9L1522.9 1210.4L1525.8 1210.8L1528.8 1211.1L1531.8 1211.5L1534.8 1211.9L1537.7 1212.3L1540.7 1212.6L1543.7 1213L1546.7 1213.3L1549.6 1213.6L1552.6 1214L1555.6 1214.3L1558.6 1214.6L1561.6 1214.9L1564.6 1215.2L1567.5 1215.5L1570.5 1215.8L1573.5 1216.1L1576.5 1216.3L1579.5 1216.6L1582.5 1216.9L1585.5 1217.1L1588.4 1217.4L1591.4 1217.6L1594.4 1217.9L1597.4 1218.1L1600.4 1218.3L1603.4 1218.5L1606.4 1218.7L1609.4 1219L1612.4 1219.2L1615.4 1219.4L1618.3 1219.6L1621.3 1219.7L1624.3 1219.9L1627.3 1220.1L1630.3 1220.3L1633.3 1220.5L1636.3 1220.6L1639.3 1220.8L1642.3 1220.9L1645.3 1221.1L1648.3 1221.3L1651.3 1221.4L1654.3 1221.6L1657.3 1221.7L1660.3 1221.8L1663.2 1222L1666.2 1222.1L1669.2 1222.2L1672.2 1222.4L1675.2 1222.5L1678.2 1222.6L1681.2 1222.7L1684.2 1222.8L1687.2 1222.9L1690.2 1223.1L1693.2 1223.2L1696.2 1223.3L1699.2 1223.4L1702.2 1223.5L1705.2 1223.6L1708.2 1223.7L1711.2 1223.8L1714.2 1223.9L1717.2 1224L1720.2 1224.1L1723.2 1224.2L1726.2 1224.2L1729.2 1224.3L1732.2 1224.4L1735.2 1224.5L1738.2 1224.6L1741.1 1224.7L1744.1 1224.8L1747.1 1224.8L1750.1 1224.9L1753.1 1225L1756.1 1225.1L1759.1 1225.1L1762.1 1225.2L1765.1 1225.3L1768.1 1225.4L1771.1 1225.5L1774.1 1225.5L1777.1 1225.6L1780.1 1225.7L1783.1 1225.7L1786.1 1225.8L1789.1 1225.9L1792.1 1226L1795.1 1226L1798.1 1226.1L1801.1 1226.2L1804.1 1226.2L1807.1 1226.3L1810.1 1226.4L1813.1 1226.5L1816.1 1226.5L1819.1 1226.6L1822.1 1226.7L1825.1 1226.8L1828.1 1226.8L1831.1 1226.9L1834.1 1227L1837.1 1227.1L1840.1 1227.1L1843.1 1227.2L1846 1227.3L1849 1227.4L1852 1227.4L1855 1227.5L1858 1227.6L1861 1227.7L1864 1227.8L1867 1227.9L1870 1227.9L1873 1228L1876 1228.1L1879 1228.2L1882 1228.3L1885 1228.4L1888 1228.5L1891 1228.5"/>
<path stroke="#800000" d="M388.6 981.6L391 979.8L393.5 978.1L395.9 976.3L398.2 974.5L400.6 972.6L403 970.8L405.3 968.9L407.6 967L409.9 965.1L412.2 963.1L414.5 961.2L416.7 959.2L418.9 957.1L421.1 955.1L423.2 953L425.3 950.8L427.4 948.7L429.4 946.5L431.4 944.2L433.4 941.9L435.3 939.6L437.2 937.3L439.1 935L440.9 932.7L442.8 930.3L444.6 927.9L446.5 925.6L448.3 923.2L450.1 920.8L451.9 918.4L453.8 916L455.6 913.6L457.4 911.2L459.2 908.9L461 906.5L462.8 904.1L464.6 901.7L466.4 899.3L468.3 896.9L470.1 894.6L471.9 892.2L473.8 889.8L475.6 887.4L477.4 885L479.2 882.6L481 880.2L482.8 877.8L484.5 875.4L486.3 873L488 870.5L489.8 868.1L491.5 865.7L493.2 863.2L495 860.8L496.7 858.3L498.4 855.8L500 853.3L501.7 850.8L503.3 848.3L505 845.8L506.6 843.3L508.2 840.7L509.7 838.2L511.3 835.6L512.8 833.1L514.4 830.5L515.9 827.9L517.3 825.3L518.8 822.7L520.3 820L521.7 817.4L523.1 814.8L524.5 812.1L525.9 809.4L527.3 806.8L528.6 804.1L530 801.4L531.3 798.8L532.7 796.1L534 793.4L535.3 790.7L536.6 788L537.9 785.3L539.2 782.6L540.4 779.8L541.7 777.1L542.9 774.4L544.2 771.7L545.4 768.9L546.6 766.2L547.8 763.5L549.1 760.7L550.3 758L551.4 755.2L552.6 752.5L553.8 749.7L555 747L556.2 744.2L557.3 741.4L558.5 738.7L559.6 735.9L560.8 733.1L561.9 730.4L563.1 727.6L564.2 724.8L565.3 722L566.4 719.2L567.6 716.5L568.7 713.7L569.8 710.9L570.9 708.1L572 705.3L573.1 702.5L574.2 699.8L575.3 697L576.4 694.2L577.5 691.4L578.6 688.6L579.7 685.8L580.8 683L581.8 680.2L582.9 677.4L584 674.6L585 671.8L586.1 669L587.2 666.2L588.2 663.4L589.3 660.6L590.4 657.8L591.4 655L592.5 652.2L593.5 649.4L594.6 646.6L595.6 643.8L596.7 641L597.8 638.1L598.8 635.3L599.9 632.5L600.9 629.7L602 626.9L603.1 624.1L604.1 621.3L605.2 618.5L606.3 615.7L607.3 612.9L608.4 610.1L609.5 607.3L610.5 604.5L611.6 601.7L612.7 598.9L613.8 596.1L614.8 593.3L615.9 590.5L617 587.7L618.1 584.9L619.1 582.1L620.2 579.3L621.3 576.5L622.4 573.7L623.5 570.9L624.5 568.1L625.6 565.4L626.7 562.6L627.8 559.8L628.9 557L630 554.2L631.1 551.4L632.2 548.6L633.3 545.8L634.4 543L635.5 540.2L636.6 537.5L637.7 534.7L638.8 531.9L640 529.1L641.1 526.3L642.2 523.6L643.3 520.8L644.5 518L645.6 515.2L646.7 512.5L647.9 509.7L649 506.9L650.2 504.1L651.4 501.4L652.5 498.6L653.7 495.9L654.9 493.1L656 490.3L657.2 487.6L658.4 484.9L659.7 482.1L660.9 479.4L662.2 476.7L663.4 473.9L664.7 471.2L666 468.6L667.4 465.9L668.7 463.2L670.1 460.5L671.5 457.9L673 455.3L674.4 452.6L675.9 450L677.4 447.5L679 444.9L680.6 442.3L682.2 439.8L683.8 437.3L685.4 434.8L687.1 432.3L688.9 429.9L690.6 427.4L692.4 425L694.2 422.6L696.1 420.3L698 418L700 415.7L702 413.5L704 411.3L706.2 409.2L708.3 407.1L710.5 405.1L712.8 403.1L715.2 401.3L717.6 399.5L720 397.8L722.5 396.2L725.1 394.7L727.8 393.3L730.5 392L733.3 390.9L736.2 390L739.1 389.2L742 388.7L745 388.3L748 388.2L751 388.3L754 388.5L756.9 389L759.9 389.6L762.7 390.5L765.6 391.4L768.4 392.5L771.1 393.8L773.8 395.1L776.4 396.6L778.9 398.1L781.4 399.8L783.9 401.5L786.3 403.3L788.6 405.2L790.9 407.1L793.2 409.1L795.4 411.1L797.5 413.2L799.6 415.4L801.7 417.5L803.7 419.8L805.7 422L807.6 424.3L809.5 426.6L811.4 429L813.2 431.4L815 433.8L816.7 436.2L818.5 438.6L820.2 441.1L821.9 443.6L823.6 446L825.3 448.5L826.9 451L828.6 453.5L830.2 456L831.8 458.6L833.4 461.1L835 463.6L836.6 466.2L838.2 468.7L839.8 471.3L841.3 473.9L842.8 476.4L844.4 479L845.9 481.6L847.4 484.2L848.9 486.8L850.3 489.4L851.8 492L853.3 494.6L854.7 497.3L856.1 499.9L857.6 502.5L859 505.2L860.4 507.8L861.8 510.5L863.2 513.1L864.5 515.8L865.9 518.5L867.3 521.1L868.6 523.8L870 526.5L871.3 529.2L872.7 531.9L874 534.5L875.3 537.2L876.6 539.9L877.9 542.6L879.2 545.3L880.5 548L881.8 550.7L883.1 553.5L884.4 556.2L885.6 558.9L886.9 561.6L888.2 564.3L889.5 567L890.7 569.7L892 572.5L893.3 575.2L894.5 577.9L895.8 580.6L897 583.3L898.3 586.1L899.5 588.8L900.8 591.5L902 594.2L903.3 597L904.5 599.7L905.8 602.4L907 605.1L908.3 607.9L909.5 610.6L910.8 613.3L912 616L913.3 618.8L914.5 621.5L915.8 624.2L917 626.9L918.2 629.7L919.5 632.4L920.7 635.1L922 637.9L923.2 640.6L924.5 643.3L925.7 646L927 648.8L928.2 651.5L929.5 654.2L930.7 656.9L932 659.7L933.2 662.4L934.5 665.1L935.7 667.8L937 670.5L938.3 673.3L939.5 676L940.8 678.7L942 681.4L943.3 684.2L944.5 686.9L945.8 689.6L947 692.3L948.3 695.1L949.5 697.8L950.8 700.5L952.1 703.2L953.3 705.9L954.6 708.6L955.9 711.3L957.2 714.1L958.5 716.8L959.8 719.4L961.1 722.1L962.5 724.8L963.8 727.5L965.2 730.2L966.5 732.8L967.9 735.5L969.3 738.2L970.6 740.8L972 743.5L973.4 746.2L974.8 748.8L976.2 751.5L977.6 754.1L979 756.8L980.4 759.4L981.8 762.1L983.2 764.7L984.6 767.4L986 770L987.5 772.6L988.9 775.3L990.3 777.9L991.8 780.6L993.2 783.2L994.6 785.8L996.1 788.4L997.5 791L999 793.7L1000.5 796.3L1002 798.9L1003.4 801.5L1004.9 804.1L1006.4 806.7L1007.9 809.3L1009.4 811.9L1011 814.5L1012.5 817L1014 819.6L1015.6 822.2L1017.1 824.8L1018.6 827.3L1020.2 829.9L1021.8 832.4L1023.3 835L1024.9 837.6L1026.5 840.1L1028.1 842.6L1029.7 845.2L1031.3 847.7L1032.9 850.2L1034.5 852.8L1036.1 855.3L1037.8 857.8L1039.4 860.3L1041 862.8L1042.7 865.3L1044.3 867.8L1046 870.3L1047.7 872.8L1049.4 875.3L1051 877.8L1052.7 880.3L1054.4 882.7L1056.1 885.2L1057.8 887.7L1059.5 890.1L1061.3 892.6L1063 895L1064.7 897.5L1066.5 899.9L1068.3 902.3L1070 904.7L1071.8 907.2L1073.5 909.6L1075.3 912L1077.1 914.4L1078.8 916.9L1080.6 919.3L1082.3 921.7L1084.1 924.2L1085.8 926.6L1087.6 929L1089.4 931.4L1091.1 933.9L1092.9 936.3L1094.7 938.7L1096.5 941.1L1098.3 943.5L1100.1 945.9L1101.9 948.3L1103.7 950.7L1105.5 953L1107.4 955.4L1109.2 957.8L1111 960.2L1112.9 962.5L1114.7 964.9L1116.6 967.2L1118.5 969.6L1120.3 971.9L1122.2 974.3L1124.1 976.6L1126 978.9L1127.9 981.2L1129.8 983.6L1131.6 985.9L1133.5 988.2L1135.4 990.6L1137.3 992.9L1139.2 995.2L1141.1 997.5L1143 999.9L1144.9 1002.2L1146.8 1004.5L1148.7 1006.8L1150.6 1009.1L1152.6 1011.4L1154.6 1013.6L1156.5 1015.9L1158.5 1018.1L1160.6 1020.3L1162.6 1022.5L1164.6 1024.7L1166.7 1026.9L1168.8 1029.1L1170.8 1031.2L1172.9 1033.4L1175 1035.5L1177.1 1037.7L1179.3 1039.8L1181.4 1041.9L1183.5 1044L1185.7 1046.1L1187.9 1048.1L1190.1 1050.2L1192.3 1052.2L1194.5 1054.2L1196.7 1056.2L1198.9 1058.2L1201.2 1060.2L1203.5 1062.2L1205.8 1064.1L1208.1 1066L1210.4 1067.9L1212.7 1069.8L1215 1071.7L1217.4 1073.6L1219.7 1075.4L1222.1 1077.2L1224.5 1079.1L1226.9 1080.9L1229.3 1082.7L1231.7 1084.5L1234.1 1086.2L1236.5 1088L1239 1089.8L1241.4 1091.5L1243.9 1093.2L1246.3 1094.9L1248.8 1096.6L1251.3 1098.3L1253.7 1100L1256.2 1101.7L1258.7 1103.3L1261.3 1105L1263.8 1106.6L1266.3 1108.2L1268.8 1109.8L1271.4 1111.4L1273.9 1113L1276.4 1114.6L1279 1116.2L1281.5 1117.7L1284.1 1119.3L1286.7 1120.9L1289.2 1122.4L1291.8 1124L1294.4 1125.5L1297 1127L1299.6 1128.5L1302.2 1130L1304.8 1131.4L1307.5 1132.8L1310.1 1134.1L1312.8 1135.5L1315.5 1136.8L1318.3 1138L1321 1139.3L1323.7 1140.5L1326.5 1141.7L1329.2 1142.8L1332 1144L1334.8 1145.2L1337.5 1146.3L1340.3 1147.5L1343.1 1148.6L1345.8 1149.8L1348.6 1151L1351.4 1152.1L1354.1 1153.3L1356.9 1154.4L1359.7 1155.5L1362.5 1156.6L1365.2 1157.7L1368 1158.8L1370.8 1159.9L1373.6 1161L1376.4 1162L1379.2 1163.1L1382.1 1164.1L1384.9 1165.1L1387.7 1166.2L1390.5 1167.2L1393.4 1168.2L1396.2 1169.1L1399 1170.1L1401.9 1171.1L1404.7 1172L1407.5 1173L1410.4 1173.9L1413.2 1174.9L1416.1 1175.8L1418.9 1176.7L1421.8 1177.6L1424.7 1178.5L1427.5 1179.4L1430.4 1180.2L1433.3 1181.1L1436.1 1182L1439 1182.8L1441.9 1183.6L1444.8 1184.5L1447.7 1185.3L1450.6 1186.1L1453.4 1186.9L1456.3 1187.7L1459.2 1188.4L1462.1 1189.2L1465 1190L1467.9 1190.7L1470.8 1191.4L1473.8 1192.2L1476.7 1192.9L1479.6 1193.6L1482.5 1194.3L1485.4 1195L1488.3 1195.6L1491.3 1196.3L1494.2 1196.9L1497.1 1197.6L1500 1198.2L1503 1198.9L1505.9 1199.5L1508.8 1200.1L1511.8 1200.7L1514.7 1201.4L1517.6 1202L1520.6 1202.6L1523.5 1203.2L1526.4 1203.8L1529.4 1204.4L1532.3 1204.9L1535.3 1205.5L1538.2 1206.1L1541.2 1206.6L1544.1 1207.2L1547.1 1207.7L1550 1208.2L1553 1208.7L1555.9 1209.2L1558.9 1209.6L1561.9 1210.1L1564.8 1210.5L1567.8 1210.9L1570.8 1211.3L1573.7 1211.7L1576.7 1212L1579.7 1212.4L1582.7 1212.7L1585.7 1213.1L1588.6 1213.4L1591.6 1213.7L1594.6 1214L1597.6 1214.3L1600.6 1214.6L1603.6 1214.9L1606.5 1215.2L1609.5 1215.5L1612.5 1215.7L1615.5 1216L1618.5 1216.2L1621.5 1216.5L1624.5 1216.7L1627.4 1217L1630.4 1217.2L1633.4 1217.4L1636.4 1217.6L1639.4 1217.8L1642.4 1218L1645.4 1218.2L1648.4 1218.4L1651.4 1218.6L1654.4 1218.8L1657.4 1219L1660.4 1219.2L1663.3 1219.3L1666.3 1219.5L1669.3 1219.6L1672.3 1219.8L1675.3 1219.9L1678.3 1220.1L1681.3 1220.2L1684.3 1220.4L1687.3 1220.5L1690.3 1220.6L1693.3 1220.8L1696.3 1220.9L1699.3 1221L1702.3 1221.1L1705.3 1221.2L1708.3 1221.4L1711.3 1221.5L1714.3 1221.6L1717.3 1221.7L1720.2 1221.8L1723.2 1221.9L1726.2 1222L1729.2 1222.1L1732.2 1222.2L1735.2 1222.3L1738.2 1222.4L1741.2 1222.4L1744.2 1222.5L1747.2 1222.6L1750.2 1222.7L1753.2 1222.8L1756.2 1222.9L1759.2 1223L1762.2 1223.1L1765.2 1223.1L1768.2 1223.2L1771.2 1223.3L1774.2 1223.4L1777.2 1223.5L1780.2 1223.6L1783.2 1223.6L1786.2 1223.7L1789.2 1223.8L1792.2 1223.9L1795.2 1224L1798.2 1224.1L1801.2 1224.2L1804.2 1224.3L1807.2 1224.4L1810.1 1224.5L1813.1 1224.6L1816.1 1224.7L1819.1 1224.8L1822.1 1224.9L1825.1 1225L1828.1 1225.1L1831.1 1225.2L1834.1 1225.3L1837.1 1225.4L1840.1 1225.5L1843.1 1225.7L1846.1 1225.8L1849.1 1225.9L1852.1 1226.1L1855.1 1226.2L1858.1 1226.3L1861.1 1226.5L1864.1 1226.6L1867.1 1226.8L1870.1 1226.9L1873 1227.1L1876 1227.3L1879 1227.5L1882 1227.6L1885 1227.8L1888 1228L1891 1228.2"/>
<path stroke="#808000" d="M388.6 1058.4L390.6 1056.1L392.5 1053.8L394.4 1051.5L396.2 1049.1L398.1 1046.8L399.9 1044.4L401.7 1042L403.5 1039.5L405.2 1037.1L406.9 1034.7L408.6 1032.2L410.3 1029.7L411.9 1027.2L413.6 1024.7L415.2 1022.2L416.8 1019.6L418.4 1017.1L419.9 1014.5L421.5 1011.9L423 1009.4L424.5 1006.8L426 1004.2L427.4 1001.5L428.9 998.9L430.3 996.3L431.7 993.7L433.1 991L434.5 988.3L435.9 985.7L437.2 983L438.5 980.3L439.8 977.6L441.1 974.9L442.4 972.2L443.7 969.5L444.9 966.8L446.2 964L447.4 961.3L448.6 958.5L449.8 955.8L451 953L452.1 950.3L453.3 947.5L454.4 944.7L455.6 942L456.7 939.2L457.8 936.4L458.9 933.6L460 930.8L461.1 928.1L462.2 925.3L463.3 922.5L464.4 919.7L465.5 916.9L466.5 914.1L467.6 911.3L468.7 908.5L469.8 905.7L470.9 902.9L471.9 900.1L473 897.3L474.1 894.5L475.2 891.7L476.3 888.9L477.4 886.2L478.5 883.4L479.6 880.6L480.7 877.8L481.9 875L483 872.2L484.1 869.5L485.2 866.7L486.3 863.9L487.5 861.1L488.6 858.4L489.7 855.6L490.8 852.8L491.9 850L493 847.2L494.1 844.4L495.2 841.6L496.3 838.8L497.3 836L498.4 833.2L499.5 830.4L500.5 827.6L501.5 824.8L502.5 822L503.5 819.2L504.5 816.3L505.5 813.5L506.5 810.7L507.4 807.8L508.3 805L509.3 802.1L510.2 799.3L511.1 796.4L512 793.6L512.9 790.7L513.8 787.8L514.6 785L515.5 782.1L516.3 779.2L517.2 776.3L518 773.5L518.9 770.6L519.7 767.7L520.5 764.8L521.3 761.9L522.1 759L522.9 756.2L523.7 753.3L524.5 750.4L525.3 747.5L526 744.6L526.8 741.7L527.6 738.8L528.4 735.9L529.1 733L529.9 730.1L530.6 727.2L531.4 724.3L532.1 721.4L532.9 718.5L533.6 715.6L534.4 712.7L535.1 709.8L535.8 706.9L536.6 704L537.3 701.1L538.1 698.2L538.8 695.3L539.5 692.4L540.3 689.5L541 686.6L541.8 683.6L542.5 680.7L543.2 677.8L544 674.9L544.7 672L545.5 669.1L546.2 666.2L547 663.3L547.7 660.4L548.5 657.5L549.2 654.6L550 651.7L550.7 648.8L551.5 645.9L552.3 643L553 640.1L553.8 637.2L554.6 634.3L555.4 631.5L556.1 628.6L556.9 625.7L557.7 622.8L558.5 619.9L559.2 617L560 614.1L560.8 611.2L561.6 608.3L562.4 605.4L563.2 602.5L563.9 599.6L564.7 596.7L565.5 593.8L566.3 591L567.1 588.1L567.9 585.2L568.7 582.3L569.5 579.4L570.3 576.5L571.1 573.6L571.9 570.7L572.7 567.8L573.5 564.9L574.3 562.1L575.1 559.2L575.9 556.3L576.7 553.4L577.5 550.5L578.3 547.6L579.1 544.7L579.9 541.8L580.7 539L581.5 536.1L582.3 533.2L583.1 530.3L583.9 527.4L584.7 524.5L585.5 521.6L586.3 518.7L587.1 515.8L587.9 513L588.7 510.1L589.5 507.2L590.3 504.3L591.1 501.4L591.9 498.5L592.7 495.6L593.5 492.7L594.3 489.9L595.1 487L595.9 484.1L596.7 481.2L597.5 478.3L598.3 475.4L599.1 472.5L599.9 469.6L600.7 466.8L601.5 463.9L602.3 461L603.1 458.1L603.9 455.2L604.8 452.3L605.6 449.5L606.4 446.6L607.2 443.7L608 440.8L608.9 437.9L609.7 435L610.5 432.2L611.3 429.3L612.1 426.4L613 423.5L613.8 420.6L614.6 417.8L615.4 414.9L616.2 412L617.1 409.1L617.9 406.2L618.7 403.3L619.5 400.5L620.3 397.6L621.2 394.7L622 391.8L622.8 388.9L623.6 386L624.4 383.2L625.3 380.3L626.1 377.4L626.9 374.5L627.7 371.6L628.6 368.8L629.4 365.9L630.3 363L631.1 360.1L632 357.3L632.8 354.4L633.7 351.5L634.5 348.7L635.4 345.8L636.3 342.9L637.2 340.1L638.1 337.2L639 334.3L639.9 331.5L640.8 328.6L641.7 325.8L642.7 322.9L643.6 320.1L644.5 317.2L645.5 314.4L646.5 311.6L647.4 308.7L648.4 305.9L649.4 303.1L650.4 300.2L651.4 297.4L652.4 294.6L653.4 291.8L654.5 289L655.5 286.2L656.5 283.3L657.6 280.5L658.7 277.7L659.7 274.9L660.8 272.1L661.9 269.4L663 266.6L664.1 263.8L665.2 261L666.4 258.2L667.5 255.5L668.6 252.7L669.8 249.9L671 247.2L672.1 244.4L673.3 241.7L674.5 238.9L675.7 236.2L677 233.4L678.2 230.7L679.5 228L680.8 225.3L682.1 222.6L683.4 219.9L684.7 217.2L686.1 214.5L687.5 211.9L688.9 209.3L690.4 206.6L691.8 204L693.3 201.4L694.9 198.9L696.5 196.3L698.1 193.8L699.8 191.3L701.5 188.9L703.2 186.4L705 184L706.9 181.7L708.8 179.4L710.8 177.2L712.9 175L715 172.8L717.2 170.8L719.4 168.8L721.7 166.9L724.1 165.1L726.6 163.5L729.2 161.9L731.8 160.5L734.5 159.2L737.4 158.2L740.2 157.3L743.2 156.8L746.2 156.5L749.2 156.5L752.1 156.7L755.1 157.3L758 158L760.8 159L763.6 160.2L766.2 161.5L768.8 163L771.3 164.7L773.8 166.4L776.2 168.2L778.5 170.2L780.7 172.1L782.9 174.2L785 176.3L787.1 178.4L789.2 180.6L791.2 182.8L793.2 185.1L795.1 187.4L797 189.7L798.9 192L800.8 194.3L802.6 196.7L804.4 199.1L806.2 201.5L808 203.9L809.7 206.4L811.5 208.8L813.2 211.3L814.9 213.7L816.5 216.2L818.2 218.7L819.8 221.3L821.4 223.8L823 226.4L824.5 228.9L826 231.5L827.5 234.1L829 236.7L830.5 239.3L831.9 241.9L833.3 244.6L834.7 247.2L836.1 249.9L837.5 252.6L838.8 255.2L840.1 257.9L841.4 260.6L842.7 263.3L844 266L845.2 268.8L846.5 271.5L847.7 274.2L848.9 277L850.1 279.7L851.2 282.5L852.4 285.3L853.5 288L854.7 290.8L855.8 293.6L856.9 296.4L858 299.2L859.1 301.9L860.2 304.7L861.3 307.5L862.3 310.3L863.4 313.1L864.5 315.9L865.5 318.7L866.6 321.6L867.6 324.4L868.6 327.2L869.7 330L870.7 332.8L871.8 335.6L872.8 338.4L873.8 341.2L874.9 344L875.9 346.9L876.9 349.7L878 352.5L879 355.3L880.1 358.1L881.1 360.9L882.2 363.7L883.2 366.5L884.3 369.3L885.3 372.1L886.4 374.9L887.5 377.7L888.5 380.5L889.6 383.3L890.7 386.1L891.8 388.9L892.8 391.7L893.9 394.5L895 397.3L896 400.1L897.1 402.9L898.2 405.7L899.3 408.5L900.3 411.3L901.4 414.1L902.5 416.9L903.6 419.7L904.6 422.5L905.7 425.3L906.8 428.1L907.9 430.9L908.9 433.7L910 436.5L911 439.3L912.1 442.1L913.2 444.9L914.2 447.7L915.3 450.5L916.3 453.3L917.4 456.1L918.4 458.9L919.4 461.7L920.5 464.6L921.5 467.4L922.5 470.2L923.6 473L924.6 475.8L925.6 478.6L926.6 481.5L927.6 484.3L928.6 487.1L929.7 489.9L930.7 492.7L931.7 495.6L932.7 498.4L933.7 501.2L934.7 504L935.7 506.9L936.7 509.7L937.7 512.5L938.7 515.3L939.7 518.2L940.7 521L941.7 523.8L942.7 526.6L943.7 529.4L944.8 532.3L945.8 535.1L946.8 537.9L947.8 540.7L948.8 543.5L949.9 546.3L950.9 549.2L951.9 552L953 554.8L954 557.6L955 560.4L956.1 563.2L957.1 566L958.2 568.8L959.3 571.6L960.3 574.4L961.4 577.2L962.5 580L963.5 582.8L964.6 585.6L965.7 588.4L966.8 591.2L967.9 594L969 596.8L970.1 599.6L971.2 602.3L972.3 605.1L973.5 607.9L974.6 610.7L975.7 613.4L976.9 616.2L978 619L979.2 621.7L980.3 624.5L981.5 627.3L982.7 630L983.9 632.8L985 635.5L986.2 638.3L987.4 641L988.6 643.8L989.8 646.5L991.1 649.3L992.3 652L993.5 654.7L994.7 657.5L996 660.2L997.2 662.9L998.4 665.7L999.7 668.4L1000.9 671.1L1002.2 673.8L1003.4 676.6L1004.6 679.3L1005.9 682L1007.1 684.7L1008.4 687.5L1009.6 690.2L1010.9 692.9L1012.2 695.6L1013.4 698.4L1014.7 701.1L1015.9 703.8L1017.2 706.5L1018.5 709.2L1019.8 711.9L1021 714.6L1022.3 717.3L1023.6 720.1L1024.9 722.8L1026.2 725.5L1027.5 728.2L1028.8 730.9L1030.1 733.6L1031.4 736.3L1032.7 738.9L1034 741.6L1035.4 744.3L1036.7 747L1038.1 749.7L1039.4 752.4L1040.8 755L1042.1 757.7L1043.5 760.3L1044.9 763L1046.3 765.7L1047.7 768.3L1049.1 771L1050.5 773.6L1051.9 776.2L1053.4 778.9L1054.8 781.5L1056.3 784.1L1057.7 786.7L1059.2 789.4L1060.6 792L1062.1 794.6L1063.6 797.2L1065 799.8L1066.5 802.4L1067.9 805.1L1069.4 807.7L1070.9 810.3L1072.3 812.9L1073.8 815.5L1075.3 818.1L1076.7 820.7L1078.2 823.4L1079.6 826L1081.1 828.6L1082.6 831.2L1084 833.8L1085.5 836.4L1087 839L1088.5 841.7L1089.9 844.3L1091.4 846.9L1092.9 849.5L1094.4 852.1L1095.8 854.7L1097.3 857.3L1098.8 859.9L1100.3 862.5L1101.8 865.1L1103.3 867.7L1104.8 870.3L1106.3 872.9L1107.8 875.5L1109.3 878.1L1110.8 880.6L1112.4 883.2L1113.9 885.8L1115.4 888.4L1116.9 891L1118.5 893.5L1120 896.1L1121.6 898.7L1123.1 901.2L1124.7 903.8L1126.2 906.3L1127.8 908.9L1129.4 911.4L1131 914L1132.5 916.5L1134.1 919.1L1135.7 921.6L1137.3 924.1L1138.9 926.7L1140.5 929.2L1142.2 931.7L1143.8 934.3L1145.4 936.8L1147 939.3L1148.7 941.8L1150.3 944.3L1152 946.8L1153.6 949.3L1155.3 951.8L1157 954.3L1158.7 956.7L1160.4 959.2L1162.1 961.6L1163.9 964.1L1165.6 966.5L1167.4 968.9L1169.2 971.3L1171 973.7L1172.8 976.1L1174.6 978.5L1176.4 980.9L1178.3 983.2L1180.1 985.6L1182 987.9L1183.9 990.3L1185.8 992.6L1187.7 994.9L1189.6 997.2L1191.6 999.5L1193.5 1001.7L1195.5 1004L1197.5 1006.2L1199.5 1008.5L1201.5 1010.7L1203.5 1012.9L1205.5 1015.1L1207.5 1017.3L1209.6 1019.5L1211.6 1021.7L1213.7 1023.9L1215.8 1026.1L1217.8 1028.2L1219.9 1030.4L1222 1032.5L1224.1 1034.6L1226.2 1036.8L1228.4 1038.9L1230.5 1041L1232.6 1043.1L1234.8 1045.2L1236.9 1047.2L1239.1 1049.3L1241.3 1051.4L1243.5 1053.4L1245.7 1055.5L1247.8 1057.5L1250 1059.6L1252.2 1061.6L1254.5 1063.6L1256.7 1065.6L1258.9 1067.6L1261.2 1069.6L1263.4 1071.6L1265.7 1073.5L1268 1075.5L1270.3 1077.4L1272.6 1079.3L1274.9 1081.2L1277.3 1083L1279.6 1084.9L1282 1086.7L1284.4 1088.5L1286.8 1090.3L1289.2 1092L1291.7 1093.8L1294.1 1095.5L1296.6 1097.2L1299.1 1098.9L1301.6 1100.6L1304.1 1102.2L1306.6 1103.9L1309.1 1105.5L1311.6 1107.1L1314.1 1108.7L1316.7 1110.3L1319.2 1111.9L1321.8 1113.4L1324.4 1115L1326.9 1116.5L1329.5 1118L1332.1 1119.5L1334.7 1121.1L1337.3 1122.5L1339.9 1124L1342.5 1125.5L1345.1 1126.9L1347.8 1128.4L1350.4 1129.8L1353.1 1131.2L1355.7 1132.6L1358.4 1134L1361 1135.3L1363.7 1136.7L1366.4 1138L1369.1 1139.4L1371.8 1140.7L1374.5 1142L1377.2 1143.3L1379.9 1144.5L1382.6 1145.8L1385.3 1147.1L1388 1148.3L1390.8 1149.6L1393.5 1150.8L1396.2 1152L1399 1153.2L1401.7 1154.4L1404.5 1155.6L1407.3 1156.7L1410 1157.9L1412.8 1159L1415.6 1160.2L1418.3 1161.3L1421.1 1162.4L1423.9 1163.5L1426.7 1164.6L1429.5 1165.7L1432.3 1166.8L1435.1 1167.8L1437.9 1168.9L1440.7 1169.9L1443.5 1170.9L1446.4 1171.9L1449.2 1172.9L1452 1173.9L1454.9 1174.9L1457.7 1175.8L1460.5 1176.7L1463.4 1177.7L1466.2 1178.6L1469.1 1179.5L1472 1180.4L1474.8 1181.3L1477.7 1182.1L1480.6 1183L1483.5 1183.8L1486.3 1184.6L1489.2 1185.4L1492.1 1186.2L1495 1187L1497.9 1187.8L1500.8 1188.5L1503.7 1189.2L1506.6 1190L1509.5 1190.7L1512.4 1191.4L1515.4 1192.1L1518.3 1192.8L1521.2 1193.5L1524.1 1194.1L1527 1194.8L1530 1195.4L1532.9 1196L1535.8 1196.7L1538.8 1197.3L1541.7 1197.9L1544.6 1198.4L1547.6 1199L1550.5 1199.6L1553.5 1200.1L1556.4 1200.6L1559.4 1201.1L1562.3 1201.6L1565.3 1202.1L1568.3 1202.6L1571.2 1203L1574.2 1203.5L1577.1 1203.9L1580.1 1204.4L1583.1 1204.8L1586 1205.2L1589 1205.6L1592 1206L1595 1206.4L1597.9 1206.7L1600.9 1207.1L1603.9 1207.5L1606.9 1207.8L1609.8 1208.2L1612.8 1208.5L1615.8 1208.8L1618.8 1209.1L1621.7 1209.5L1624.7 1209.8L1627.7 1210.1L1630.7 1210.4L1633.7 1210.7L1636.7 1210.9L1639.6 1211.2L1642.6 1211.5L1645.6 1211.8L1648.6 1212L1651.6 1212.3L1654.6 1212.5L1657.6 1212.8L1660.5 1213L1663.5 1213.2L1666.5 1213.4L1669.5 1213.7L1672.5 1213.9L1675.5 1214.1L1678.5 1214.3L1681.5 1214.5L1684.5 1214.7L1687.4 1214.9L1690.4 1215.1L1693.4 1215.3L1696.4 1215.4L1699.4 1215.6L1702.4 1215.8L1705.4 1216L1708.4 1216.1L1711.4 1216.3L1714.4 1216.4L1717.4 1216.6L1720.4 1216.8L1723.4 1216.9L1726.3 1217.1L1729.3 1217.2L1732.3 1217.3L1735.3 1217.5L1738.3 1217.6L1741.3 1217.8L1744.3 1217.9L1747.3 1218L1750.3 1218.1L1753.3 1218.3L1756.3 1218.4L1759.3 1218.5L1762.3 1218.6L1765.3 1218.8L1768.3 1218.9L1771.3 1219L1774.2 1219.1L1777.2 1219.2L1780.2 1219.4L1783.2 1219.5L1786.2 1219.6L1789.2 1219.7L1792.2 1219.8L1795.2 1220L1798.2 1220.1L1801.2 1220.2L1804.2 1220.3L1807.2 1220.4L1810.2 1220.5L1813.2 1220.7L1816.2 1220.8L1819.2 1220.9L1822.2 1221L1825.2 1221.1L1828.1 1221.3L1831.1 1221.4L1834.1 1221.5L1837.1 1221.6L1840.1 1221.8L1843.1 1221.9L1846.1 1222L1849.1 1222.2L1852.1 1222.3L1855.1 1222.5L1858.1 1222.6L1861.1 1222.8L1864.1 1222.9L1867.1 1223.1L1870.1 1223.2L1873 1223.4L1876 1223.5L1879 1223.7L1882 1223.9L1885 1224L1888 1224.2L1891 1224.4"/>
</g>
<path d="M1347 900.5V215" stroke="#000" stroke-width="2" fill="none" shape-rendering="crispEdges"/>
<path d="M1346.3 189H1347.7L1355.2 219H1338.8Z" fill="#000"/>
<g class="cv">
<path stroke="#000000" d="M1413 219.5H1538.5"/>
<path stroke="#ff0000" d="M1413 288.2H1538.5"/>
<path stroke="#0000ff" d="M1413 356.9H1538.5"/>
<path stroke="#ff00ff" d="M1413 425.6H1538.5"/>
<path stroke="#008000" d="M1413 494.3H1538.5"/>
<path stroke="#000080" d="M1413 563.0H1538.5"/>
<path stroke="#8000ff" d="M1413 631.7H1538.5"/>
<path stroke="#800080" d="M1413 700.4H1538.5"/>
<path stroke="#800000" d="M1413 769.1H1538.5"/>
<path stroke="#808000" d="M1413 837.8H1538.5"/>
</g>
<g class="lg">
<text transform="translate(1563.7 230.8) scale(1.015 1.045)">40mg/L</text>
<text transform="translate(1563.7 299.5) scale(1.015 1.045)">20mg/L</text>
<text transform="translate(1563.7 368.2) scale(1.015 1.045)">15mg/L</text>
<text transform="translate(1563.7 436.9) scale(1.015 1.045)">10mg/L</text>
<text transform="translate(1563.7 505.6) scale(1.015 1.045)">5mg/L</text>
<text transform="translate(1563.7 574.3) scale(1.015 1.045)">2mg/L</text>
<text transform="translate(1563.7 643.0) scale(1.015 1.045)">1mg/L</text>
<text transform="translate(1563.7 711.7) scale(1.015 1.045)">0.5mg/L</text>
<text transform="translate(1563.7 780.4) scale(1.015 1.045)">0.2mg/L</text>
<text transform="translate(1563.7 849.1) scale(1.015 1.045)">0.1mg/L</text>
</g>
</svg>
</body>
</html>
